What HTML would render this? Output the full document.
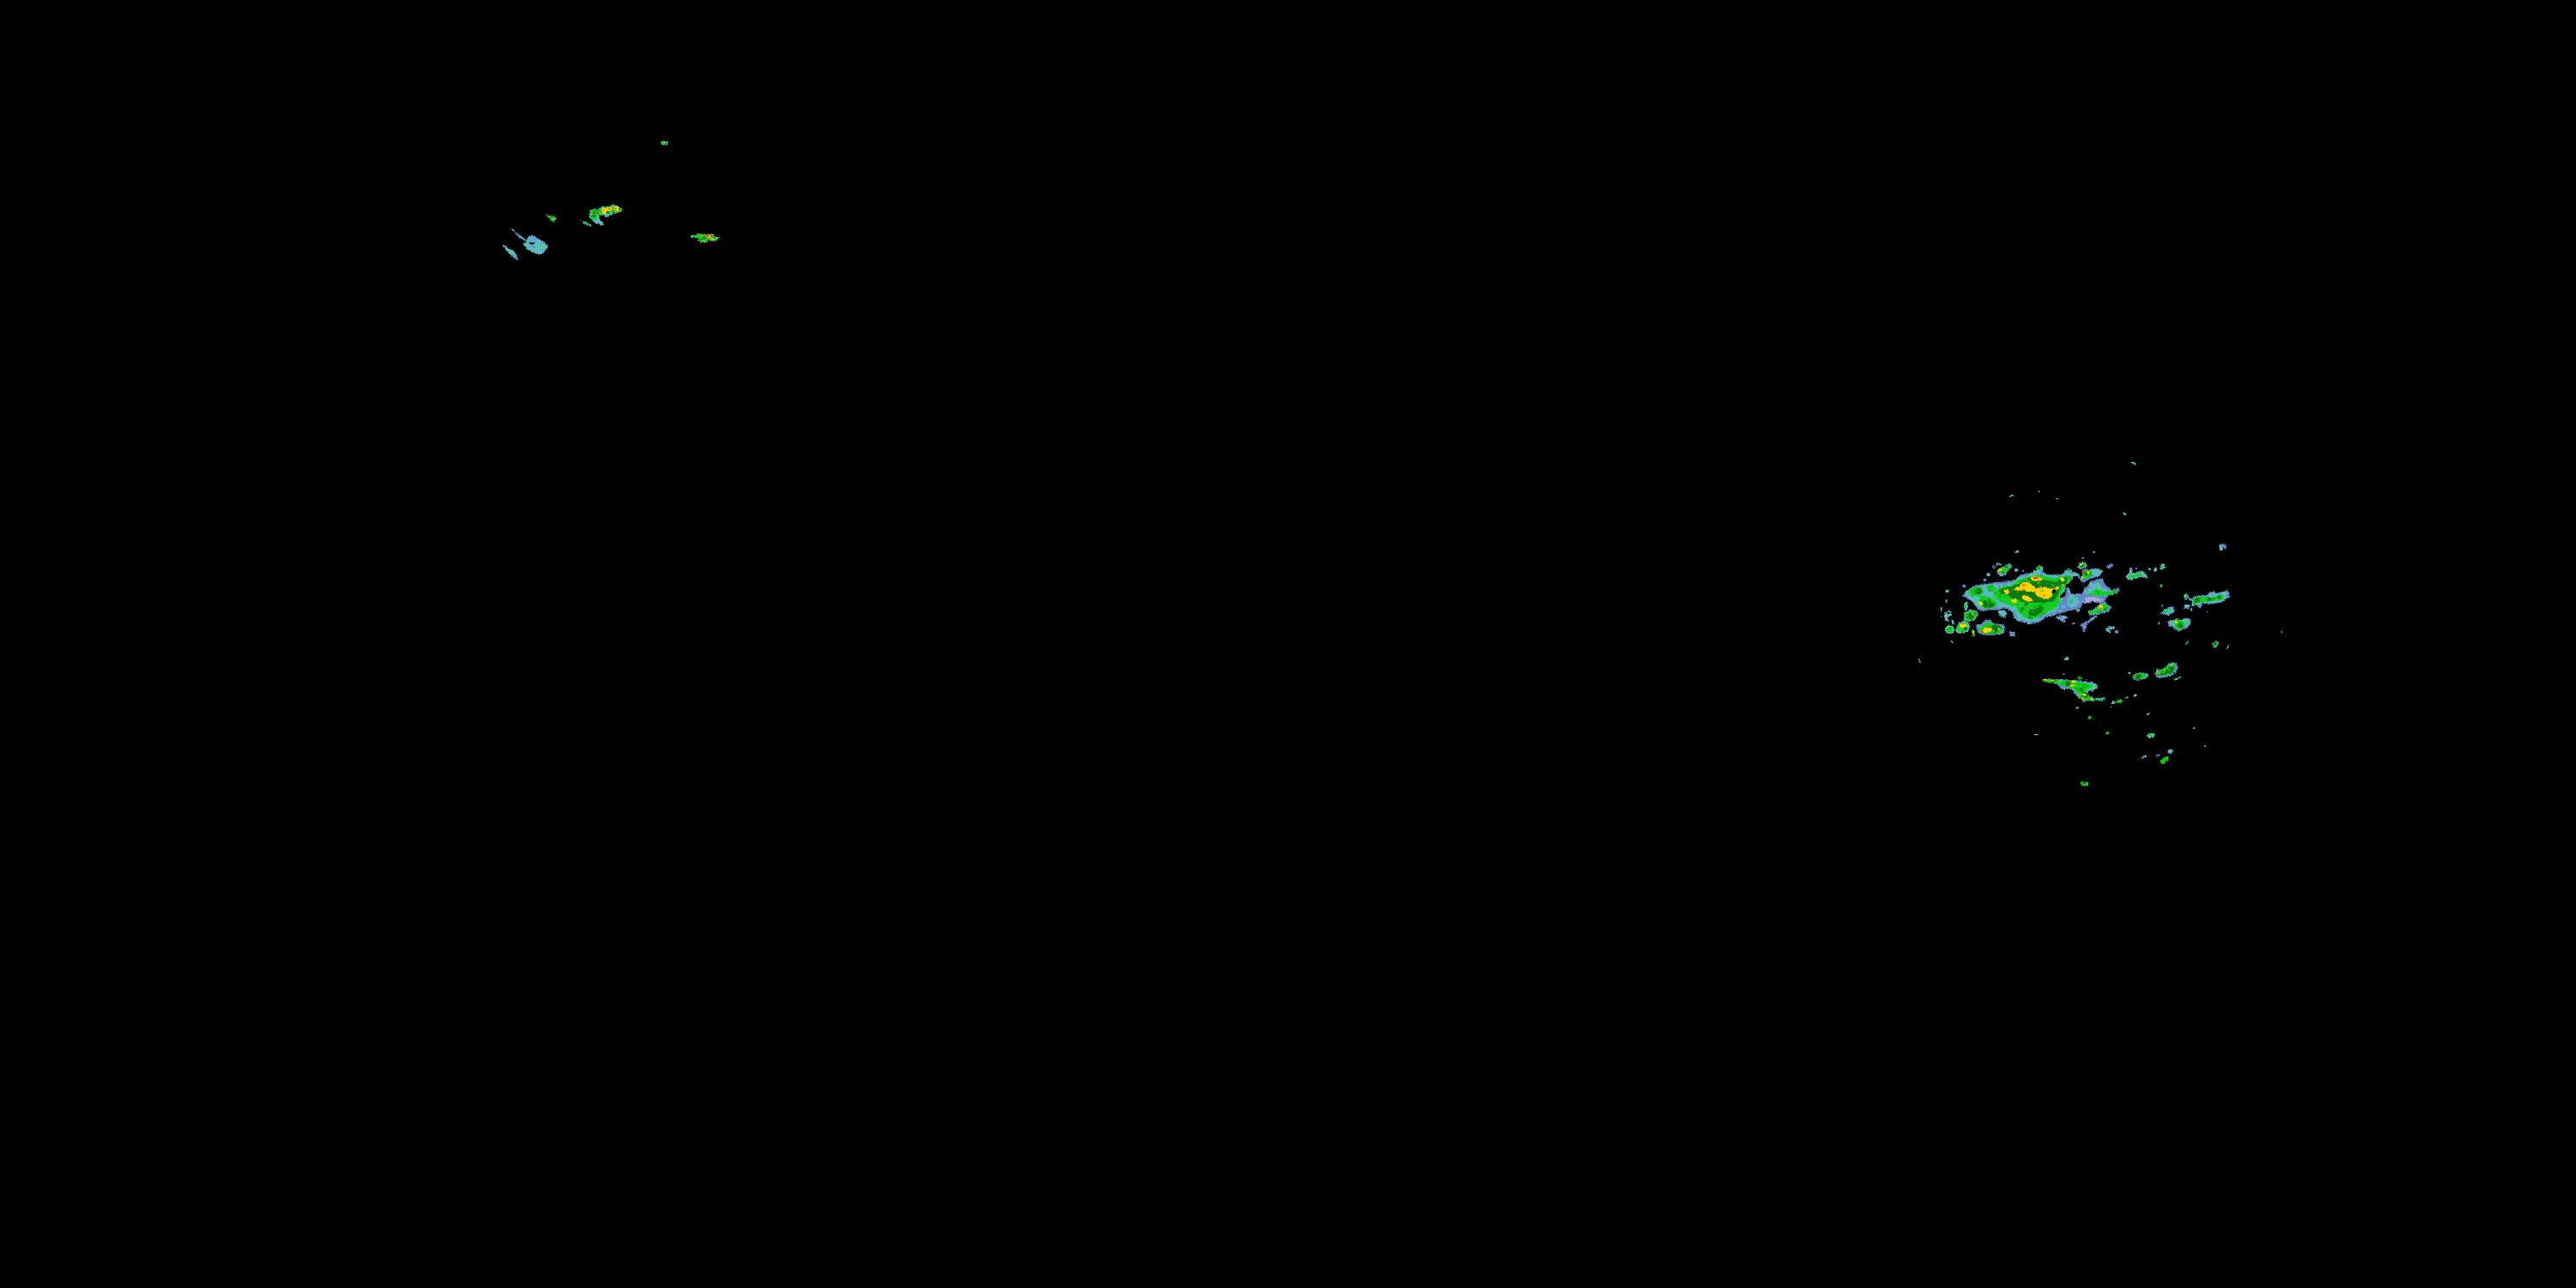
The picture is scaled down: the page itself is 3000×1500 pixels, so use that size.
<!DOCTYPE html>
<html><head><meta charset="utf-8"><style>
html,body{margin:0;padding:0;background:#000;width:3000px;height:1500px;overflow:hidden;}
svg{display:block;}
</style></head><body>
<svg width="3000" height="1500" viewBox="0 0 3000 1500">
<defs><pattern id="pB" patternUnits="userSpaceOnUse" width="48" height="48"><rect width="48" height="48" fill="#6384c8"/><rect x="4.6" y="38.8" width="3.7" height="3.7" fill="#62aad8"/><rect x="10.8" y="22.4" width="2.9" height="2.9" fill="#62aad8"/><rect x="30.3" y="36.9" width="1.9" height="1.9" fill="#62aad8"/><rect x="-0.0" y="38.7" width="2.8" height="2.8" fill="#62aad8"/><rect x="48.0" y="38.7" width="2.8" height="2.8" fill="#62aad8"/><rect x="35.2" y="-1.3" width="2.8" height="2.8" fill="#62aad8"/><rect x="35.2" y="46.7" width="2.8" height="2.8" fill="#62aad8"/><rect x="32.5" y="8.9" width="4.2" height="4.2" fill="#62aad8"/><rect x="42.4" y="0.6" width="1.7" height="1.7" fill="#62aad8"/><rect x="24.7" y="43.7" width="2.7" height="2.7" fill="#62aad8"/><rect x="9.6" y="19.4" width="1.7" height="1.7" fill="#62aad8"/><rect x="9.1" y="19.5" width="3.0" height="3.0" fill="#62aad8"/><rect x="10.1" y="10.0" width="2.2" height="2.2" fill="#62aad8"/><rect x="21.2" y="13.1" width="1.7" height="1.7" fill="#62aad8"/><rect x="38.5" y="25.0" width="3.4" height="3.4" fill="#62aad8"/><rect x="6.9" y="-2.4" width="4.0" height="4.0" fill="#62aad8"/><rect x="6.9" y="45.6" width="4.0" height="4.0" fill="#62aad8"/><rect x="4.0" y="14.2" width="3.6" height="3.6" fill="#62aad8"/><rect x="32.7" y="43.6" width="2.8" height="2.8" fill="#62aad8"/><rect x="38.6" y="30.9" width="2.4" height="2.4" fill="#62aad8"/><rect x="26.2" y="40.4" width="4.0" height="4.0" fill="#62aad8"/><rect x="23.4" y="27.4" width="1.7" height="1.7" fill="#62aad8"/><rect x="10.3" y="36.9" width="2.8" height="2.8" fill="#62aad8"/><rect x="6.5" y="24.6" width="3.6" height="3.6" fill="#62aad8"/><rect x="31.0" y="16.6" width="2.8" height="2.8" fill="#62aad8"/><rect x="22.9" y="35.8" width="3.1" height="3.1" fill="#62aad8"/><rect x="18.0" y="22.7" width="1.7" height="1.7" fill="#62aad8"/><rect x="-0.1" y="31.6" width="4.4" height="4.4" fill="#62aad8"/><rect x="47.9" y="31.6" width="4.4" height="4.4" fill="#62aad8"/><rect x="27.4" y="17.9" width="2.1" height="2.1" fill="#62aad8"/><rect x="22.2" y="-2.7" width="3.8" height="3.8" fill="#62aad8"/><rect x="22.2" y="45.3" width="3.8" height="3.8" fill="#62aad8"/><rect x="24.8" y="40.2" width="2.3" height="2.3" fill="#62aad8"/><rect x="23.1" y="44.1" width="3.2" height="3.2" fill="#62aad8"/><rect x="20.5" y="11.4" width="3.1" height="3.1" fill="#62aad8"/><rect x="44.0" y="-1.6" width="3.8" height="3.8" fill="#62aad8"/><rect x="44.0" y="46.4" width="3.8" height="3.8" fill="#62aad8"/><rect x="37.5" y="40.7" width="3.7" height="3.7" fill="#62aad8"/><rect x="37.3" y="23.3" width="3.2" height="3.2" fill="#62aad8"/><rect x="18.4" y="0.7" width="4.0" height="4.0" fill="#62aad8"/><rect x="25.9" y="8.1" width="3.0" height="3.0" fill="#62aad8"/><rect x="22.0" y="15.8" width="2.6" height="2.6" fill="#62aad8"/><rect x="24.2" y="28.3" width="3.3" height="3.3" fill="#62aad8"/><rect x="20.9" y="0.2" width="2.2" height="2.2" fill="#62aad8"/><rect x="6.5" y="26.0" width="4.0" height="4.0" fill="#62aad8"/><rect x="36.4" y="36.3" width="3.9" height="3.9" fill="#62aad8"/><rect x="10.5" y="38.7" width="3.5" height="3.5" fill="#62aad8"/><rect x="3.2" y="-0.0" width="1.6" height="1.6" fill="#62aad8"/><rect x="3.2" y="48.0" width="1.6" height="1.6" fill="#62aad8"/><rect x="35.3" y="11.0" width="1.9" height="1.9" fill="#62aad8"/><rect x="29.1" y="15.6" width="1.8" height="1.8" fill="#62aad8"/><rect x="6.6" y="24.3" width="2.1" height="2.1" fill="#62aad8"/><rect x="11.7" y="32.7" width="2.9" height="2.9" fill="#62aad8"/><rect x="14.6" y="21.9" width="1.7" height="1.7" fill="#62aad8"/><rect x="17.5" y="19.1" width="2.1" height="2.1" fill="#62aad8"/><rect x="3.7" y="41.7" width="3.0" height="3.0" fill="#62aad8"/><rect x="8.1" y="27.1" width="3.9" height="3.9" fill="#62aad8"/><rect x="0.2" y="0.1" width="1.6" height="1.6" fill="#58c4a8"/><rect x="33.1" y="6.2" width="2.9" height="2.9" fill="#58c4a8"/><rect x="31.7" y="25.3" width="1.7" height="1.7" fill="#58c4a8"/><rect x="-2.4" y="37.1" width="2.4" height="2.4" fill="#58c4a8"/><rect x="45.6" y="37.1" width="2.4" height="2.4" fill="#58c4a8"/><rect x="9.6" y="30.1" width="2.1" height="2.1" fill="#58c4a8"/><rect x="26.3" y="14.1" width="2.7" height="2.7" fill="#58c4a8"/><rect x="1.1" y="12.6" width="3.5" height="3.5" fill="#58c4a8"/><rect x="40.4" y="13.1" width="3.3" height="3.3" fill="#58c4a8"/><rect x="13.4" y="43.6" width="3.0" height="3.0" fill="#58c4a8"/><rect x="19.4" y="11.5" width="1.2" height="1.2" fill="#58c4a8"/><rect x="40.6" y="0.2" width="3.2" height="3.2" fill="#58c4a8"/><rect x="45.4" y="26.6" width="1.6" height="1.6" fill="#58c4a8"/><rect x="40.2" y="-2.7" width="2.9" height="2.9" fill="#58c4a8"/><rect x="40.2" y="45.3" width="2.9" height="2.9" fill="#58c4a8"/><rect x="23.4" y="17.1" width="2.0" height="2.0" fill="#58c4a8"/><rect x="8.8" y="31.2" width="2.2" height="2.2" fill="#58c4a8"/><rect x="7.9" y="3.6" width="2.8" height="2.8" fill="#58c4a8"/><rect x="13.2" y="23.0" width="2.0" height="2.0" fill="#58c4a8"/><rect x="41.2" y="42.6" width="1.2" height="1.2" fill="#58c4a8"/><rect x="7.9" y="13.9" width="3.6" height="3.6" fill="#58c4a8"/><rect x="36.7" y="15.4" width="1.7" height="1.7" fill="#58c4a8"/><rect x="30.7" y="38.5" width="3.4" height="3.4" fill="#58c4a8"/><rect x="15.1" y="40.9" width="2.8" height="2.8" fill="#58c4a8"/><rect x="22.4" y="-1.6" width="1.8" height="1.8" fill="#58c4a8"/><rect x="22.4" y="46.4" width="1.8" height="1.8" fill="#58c4a8"/><rect x="34.0" y="3.3" width="1.6" height="1.6" fill="#58c4a8"/><rect x="42.4" y="8.9" width="2.6" height="2.6" fill="#5070b8"/><rect x="27.9" y="39.4" width="1.9" height="1.9" fill="#5070b8"/><rect x="15.0" y="12.6" width="2.8" height="2.8" fill="#5070b8"/><rect x="27.6" y="44.4" width="2.8" height="2.8" fill="#5070b8"/><rect x="5.8" y="25.8" width="1.4" height="1.4" fill="#5070b8"/><rect x="0.5" y="2.1" width="2.8" height="2.8" fill="#5070b8"/><rect x="36.9" y="38.9" width="1.8" height="1.8" fill="#5070b8"/><rect x="28.6" y="36.6" width="1.9" height="1.9" fill="#5070b8"/><rect x="26.7" y="10.1" width="1.3" height="1.3" fill="#5070b8"/><rect x="11.7" y="41.6" width="2.2" height="2.2" fill="#5070b8"/><rect x="43.6" y="21.1" width="1.7" height="1.7" fill="#5070b8"/><rect x="37.2" y="39.1" width="1.2" height="1.2" fill="#5070b8"/><rect x="31.5" y="3.7" width="1.4" height="1.4" fill="#5070b8"/><rect x="41.7" y="1.1" width="1.6" height="1.6" fill="#5070b8"/><rect x="-1.3" y="19.5" width="1.4" height="1.4" fill="#5070b8"/><rect x="46.7" y="19.5" width="1.4" height="1.4" fill="#5070b8"/><rect x="6.8" y="10.3" width="2.5" height="2.5" fill="#5070b8"/></pattern><pattern id="pT" patternUnits="userSpaceOnUse" width="48" height="48"><rect width="48" height="48" fill="#5cb8c8"/><rect x="44.8" y="44.4" width="2.2" height="2.2" fill="#50c8a0"/><rect x="2.0" y="38.0" width="4.2" height="4.2" fill="#50c8a0"/><rect x="30.2" y="12.9" width="3.8" height="3.8" fill="#50c8a0"/><rect x="27.9" y="26.7" width="2.5" height="2.5" fill="#50c8a0"/><rect x="18.6" y="16.8" width="4.2" height="4.2" fill="#50c8a0"/><rect x="-2.1" y="43.8" width="3.6" height="3.6" fill="#50c8a0"/><rect x="45.9" y="43.8" width="3.6" height="3.6" fill="#50c8a0"/><rect x="20.3" y="11.8" width="2.1" height="2.1" fill="#50c8a0"/><rect x="-0.2" y="20.8" width="3.0" height="3.0" fill="#50c8a0"/><rect x="47.8" y="20.8" width="3.0" height="3.0" fill="#50c8a0"/><rect x="16.5" y="41.0" width="3.6" height="3.6" fill="#50c8a0"/><rect x="25.9" y="10.3" width="2.1" height="2.1" fill="#50c8a0"/><rect x="13.8" y="4.8" width="3.5" height="3.5" fill="#50c8a0"/><rect x="-1.3" y="31.1" width="2.5" height="2.5" fill="#50c8a0"/><rect x="46.7" y="31.1" width="2.5" height="2.5" fill="#50c8a0"/><rect x="40.8" y="36.1" width="4.2" height="4.2" fill="#50c8a0"/><rect x="41.3" y="34.4" width="4.4" height="4.4" fill="#50c8a0"/><rect x="14.5" y="-3.4" width="4.9" height="4.9" fill="#50c8a0"/><rect x="14.5" y="44.6" width="4.9" height="4.9" fill="#50c8a0"/><rect x="5.7" y="34.1" width="4.1" height="4.1" fill="#50c8a0"/><rect x="20.4" y="23.7" width="3.5" height="3.5" fill="#50c8a0"/><rect x="42.1" y="21.8" width="4.5" height="4.5" fill="#50c8a0"/><rect x="14.6" y="40.0" width="4.7" height="4.7" fill="#50c8a0"/><rect x="19.7" y="24.9" width="4.8" height="4.8" fill="#50c8a0"/><rect x="33.4" y="22.0" width="2.7" height="2.7" fill="#50c8a0"/><rect x="14.3" y="32.3" width="2.5" height="2.5" fill="#50c8a0"/><rect x="41.2" y="10.5" width="4.7" height="4.7" fill="#50c8a0"/><rect x="12.8" y="-4.1" width="4.1" height="4.1" fill="#50c8a0"/><rect x="12.8" y="43.9" width="4.1" height="4.1" fill="#50c8a0"/><rect x="22.2" y="22.9" width="4.0" height="4.0" fill="#50c8a0"/><rect x="26.9" y="13.7" width="2.6" height="2.6" fill="#50c8a0"/><rect x="22.6" y="42.9" width="3.9" height="3.9" fill="#50c8a0"/><rect x="1.5" y="37.3" width="4.2" height="4.2" fill="#50c8a0"/><rect x="41.5" y="7.1" width="4.2" height="4.2" fill="#50c8a0"/><rect x="1.4" y="29.9" width="2.8" height="2.8" fill="#50c8a0"/><rect x="9.7" y="40.9" width="2.3" height="2.3" fill="#50c8a0"/><rect x="23.7" y="39.6" width="2.7" height="2.7" fill="#50c8a0"/><rect x="8.5" y="40.6" width="3.3" height="3.3" fill="#50c8a0"/><rect x="32.9" y="-0.0" width="3.1" height="3.1" fill="#50c8a0"/><rect x="32.9" y="48.0" width="3.1" height="3.1" fill="#50c8a0"/><rect x="7.1" y="31.2" width="2.2" height="2.2" fill="#50c8a0"/><rect x="43.7" y="-0.9" width="4.2" height="4.2" fill="#50c8a0"/><rect x="43.7" y="47.1" width="4.2" height="4.2" fill="#50c8a0"/><rect x="-1.2" y="10.1" width="4.4" height="4.4" fill="#50c8a0"/><rect x="46.8" y="10.1" width="4.4" height="4.4" fill="#50c8a0"/><rect x="5.5" y="6.8" width="4.1" height="4.1" fill="#50c8a0"/><rect x="16.0" y="-0.4" width="5.0" height="5.0" fill="#50c8a0"/><rect x="16.0" y="47.6" width="5.0" height="5.0" fill="#50c8a0"/><rect x="5.8" y="0.2" width="3.0" height="3.0" fill="#50c8a0"/><rect x="28.4" y="34.5" width="2.3" height="2.3" fill="#50c8a0"/><rect x="14.5" y="-0.2" width="3.3" height="3.3" fill="#50c8a0"/><rect x="14.5" y="47.8" width="3.3" height="3.3" fill="#50c8a0"/><rect x="34.4" y="33.2" width="4.7" height="4.7" fill="#50c8a0"/><rect x="34.2" y="39.3" width="4.1" height="4.1" fill="#50c8a0"/><rect x="20.7" y="8.8" width="4.0" height="4.0" fill="#50c8a0"/><rect x="13.5" y="3.2" width="3.3" height="3.3" fill="#50c8a0"/><rect x="40.1" y="4.2" width="3.8" height="3.8" fill="#50c8a0"/><rect x="17.6" y="23.5" width="2.4" height="2.4" fill="#50c8a0"/><rect x="44.2" y="10.5" width="3.8" height="3.8" fill="#50c8a0"/><rect x="18.3" y="-1.0" width="3.7" height="3.7" fill="#50c8a0"/><rect x="18.3" y="47.0" width="3.7" height="3.7" fill="#50c8a0"/><rect x="5.9" y="1.9" width="1.7" height="1.7" fill="#6384c8"/><rect x="6.2" y="3.0" width="3.1" height="3.1" fill="#6384c8"/><rect x="22.5" y="-2.7" width="3.8" height="3.8" fill="#6384c8"/><rect x="22.5" y="45.3" width="3.8" height="3.8" fill="#6384c8"/><rect x="-1.6" y="9.8" width="2.7" height="2.7" fill="#6384c8"/><rect x="46.4" y="9.8" width="2.7" height="2.7" fill="#6384c8"/><rect x="10.5" y="26.8" width="3.1" height="3.1" fill="#6384c8"/><rect x="37.3" y="32.9" width="2.2" height="2.2" fill="#6384c8"/><rect x="19.5" y="24.5" width="1.6" height="1.6" fill="#6384c8"/><rect x="0.8" y="18.7" width="1.9" height="1.9" fill="#6384c8"/><rect x="33.8" y="10.6" width="1.8" height="1.8" fill="#6384c8"/><rect x="7.7" y="10.1" width="2.1" height="2.1" fill="#6384c8"/><rect x="23.8" y="21.1" width="2.3" height="2.3" fill="#6384c8"/><rect x="28.9" y="8.3" width="3.8" height="3.8" fill="#6384c8"/><rect x="44.9" y="33.7" width="2.6" height="2.6" fill="#6384c8"/><rect x="23.7" y="27.0" width="1.7" height="1.7" fill="#6384c8"/><rect x="19.0" y="24.2" width="2.0" height="2.0" fill="#6384c8"/><rect x="3.3" y="37.3" width="2.5" height="2.5" fill="#6384c8"/><rect x="23.4" y="42.7" width="3.1" height="3.1" fill="#6384c8"/><rect x="12.7" y="-2.0" width="2.5" height="2.5" fill="#6384c8"/><rect x="12.7" y="46.0" width="2.5" height="2.5" fill="#6384c8"/><rect x="-0.0" y="32.0" width="1.8" height="1.8" fill="#6384c8"/><rect x="48.0" y="32.0" width="1.8" height="1.8" fill="#6384c8"/><rect x="13.1" y="38.7" width="3.2" height="3.2" fill="#6384c8"/><rect x="-0.5" y="20.4" width="2.6" height="2.6" fill="#6384c8"/><rect x="47.5" y="20.4" width="2.6" height="2.6" fill="#6384c8"/><rect x="21.8" y="8.5" width="3.0" height="3.0" fill="#6384c8"/><rect x="2.2" y="12.3" width="2.6" height="2.6" fill="#30d060"/><rect x="43.0" y="1.8" width="3.7" height="3.7" fill="#30d060"/><rect x="7.9" y="26.1" width="2.7" height="2.7" fill="#30d060"/><rect x="20.9" y="34.8" width="2.7" height="2.7" fill="#30d060"/><rect x="4.9" y="4.9" width="1.8" height="1.8" fill="#30d060"/><rect x="38.7" y="28.6" width="4.3" height="4.3" fill="#30d060"/><rect x="31.5" y="-0.5" width="3.4" height="3.4" fill="#30d060"/><rect x="31.5" y="47.5" width="3.4" height="3.4" fill="#30d060"/><rect x="35.8" y="33.2" width="3.0" height="3.0" fill="#30d060"/><rect x="15.2" y="20.0" width="3.8" height="3.8" fill="#30d060"/><rect x="11.4" y="23.8" width="2.9" height="2.9" fill="#30d060"/><rect x="43.7" y="36.5" width="4.2" height="4.2" fill="#30d060"/><rect x="39.0" y="13.1" width="2.2" height="2.2" fill="#30d060"/><rect x="22.1" y="11.1" width="2.8" height="2.8" fill="#30d060"/><rect x="31.0" y="42.5" width="3.2" height="3.2" fill="#30d060"/><rect x="38.0" y="3.3" width="2.6" height="2.6" fill="#30d060"/><rect x="-1.5" y="5.6" width="2.8" height="2.8" fill="#30d060"/><rect x="46.5" y="5.6" width="2.8" height="2.8" fill="#30d060"/><rect x="1.2" y="2.1" width="4.1" height="4.1" fill="#30d060"/><rect x="-1.5" y="30.1" width="2.0" height="2.0" fill="#30d060"/><rect x="46.5" y="30.1" width="2.0" height="2.0" fill="#30d060"/><rect x="12.5" y="9.4" width="3.5" height="3.5" fill="#30d060"/><rect x="31.2" y="19.5" width="3.1" height="3.1" fill="#30d060"/><rect x="3.2" y="23.8" width="4.3" height="4.3" fill="#30d060"/><rect x="34.8" y="3.1" width="3.0" height="3.0" fill="#30d060"/></pattern><pattern id="pG" patternUnits="userSpaceOnUse" width="48" height="48"><rect width="48" height="48" fill="#14cc20"/><rect x="10.1" y="24.8" width="2.6" height="2.6" fill="#0a8a0a"/><rect x="28.1" y="29.1" width="1.8" height="1.8" fill="#0a8a0a"/><rect x="-0.5" y="39.0" width="2.3" height="2.3" fill="#0a8a0a"/><rect x="47.5" y="39.0" width="2.3" height="2.3" fill="#0a8a0a"/><rect x="9.8" y="-1.7" width="2.9" height="2.9" fill="#0a8a0a"/><rect x="9.8" y="46.3" width="2.9" height="2.9" fill="#0a8a0a"/><rect x="38.5" y="21.2" width="3.4" height="3.4" fill="#0a8a0a"/><rect x="5.2" y="28.5" width="4.0" height="4.0" fill="#0a8a0a"/><rect x="23.4" y="33.8" width="3.5" height="3.5" fill="#0a8a0a"/><rect x="1.4" y="34.8" width="3.3" height="3.3" fill="#0a8a0a"/><rect x="12.4" y="-0.5" width="4.0" height="4.0" fill="#0a8a0a"/><rect x="12.4" y="47.5" width="4.0" height="4.0" fill="#0a8a0a"/><rect x="20.7" y="32.5" width="4.1" height="4.1" fill="#0a8a0a"/><rect x="32.9" y="42.9" width="2.7" height="2.7" fill="#0a8a0a"/><rect x="36.3" y="19.2" width="4.2" height="4.2" fill="#0a8a0a"/><rect x="41.2" y="3.7" width="2.0" height="2.0" fill="#0a8a0a"/><rect x="9.0" y="44.9" width="2.8" height="2.8" fill="#0a8a0a"/><rect x="28.6" y="12.9" width="3.0" height="3.0" fill="#0a8a0a"/><rect x="16.9" y="15.2" width="3.2" height="3.2" fill="#0a8a0a"/><rect x="26.3" y="41.6" width="3.5" height="3.5" fill="#0a8a0a"/><rect x="42.4" y="38.9" width="4.4" height="4.4" fill="#0a8a0a"/><rect x="30.4" y="6.0" width="3.7" height="3.7" fill="#40d890"/><rect x="44.8" y="41.9" width="3.0" height="3.0" fill="#40d890"/><rect x="32.5" y="8.3" width="3.6" height="3.6" fill="#40d890"/><rect x="26.7" y="12.8" width="1.8" height="1.8" fill="#40d890"/><rect x="40.1" y="-1.4" width="1.8" height="1.8" fill="#40d890"/><rect x="40.1" y="46.6" width="1.8" height="1.8" fill="#40d890"/><rect x="37.4" y="18.7" width="2.0" height="2.0" fill="#40d890"/><rect x="12.3" y="35.1" width="3.7" height="3.7" fill="#40d890"/><rect x="1.3" y="28.6" width="1.7" height="1.7" fill="#40d890"/><rect x="32.6" y="14.0" width="3.7" height="3.7" fill="#40d890"/><rect x="-2.9" y="22.3" width="4.0" height="4.0" fill="#40d890"/><rect x="45.1" y="22.3" width="4.0" height="4.0" fill="#40d890"/><rect x="13.3" y="2.2" width="3.0" height="3.0" fill="#40d890"/><rect x="0.2" y="8.2" width="2.6" height="2.6" fill="#40d890"/><rect x="28.3" y="6.5" width="2.1" height="2.1" fill="#00c000"/><rect x="39.7" y="13.1" width="3.9" height="3.9" fill="#00c000"/><rect x="41.6" y="16.7" width="2.9" height="2.9" fill="#00c000"/><rect x="23.4" y="29.3" width="3.2" height="3.2" fill="#00c000"/><rect x="24.9" y="27.8" width="3.9" height="3.9" fill="#00c000"/><rect x="22.6" y="19.0" width="3.4" height="3.4" fill="#00c000"/><rect x="9.4" y="12.5" width="4.0" height="4.0" fill="#00c000"/><rect x="24.0" y="25.3" width="2.0" height="2.0" fill="#00c000"/><rect x="18.9" y="26.8" width="2.0" height="2.0" fill="#00c000"/><rect x="28.5" y="29.3" width="2.1" height="2.1" fill="#00c000"/><rect x="28.4" y="20.7" width="3.4" height="3.4" fill="#00c000"/><rect x="15.2" y="32.2" width="3.5" height="3.5" fill="#00c000"/><rect x="-0.6" y="1.2" width="3.4" height="3.4" fill="#00c000"/><rect x="47.4" y="1.2" width="3.4" height="3.4" fill="#00c000"/><rect x="44.8" y="10.6" width="2.9" height="2.9" fill="#00c000"/><rect x="27.1" y="14.0" width="2.7" height="2.7" fill="#00c000"/><rect x="13.4" y="16.1" width="3.2" height="3.2" fill="#00c000"/><rect x="12.6" y="16.3" width="3.5" height="3.5" fill="#00c000"/><rect x="-0.4" y="25.6" width="3.5" height="3.5" fill="#00c000"/><rect x="47.6" y="25.6" width="3.5" height="3.5" fill="#00c000"/><rect x="13.1" y="8.9" width="3.6" height="3.6" fill="#00c000"/><rect x="10.0" y="7.6" width="2.9" height="2.9" fill="#00c000"/></pattern><pattern id="pD" patternUnits="userSpaceOnUse" width="48" height="48"><rect width="48" height="48" fill="#0a7a0a"/><rect x="10.0" y="3.6" width="2.7" height="2.7" fill="#14c020"/><rect x="6.1" y="1.8" width="2.7" height="2.7" fill="#14c020"/><rect x="42.2" y="36.6" width="3.7" height="3.7" fill="#14c020"/><rect x="9.5" y="24.6" width="2.4" height="2.4" fill="#14c020"/><rect x="7.2" y="4.0" width="2.2" height="2.2" fill="#14c020"/><rect x="42.6" y="37.9" width="3.9" height="3.9" fill="#14c020"/><rect x="37.2" y="8.1" width="2.5" height="2.5" fill="#14c020"/><rect x="28.1" y="33.1" width="4.0" height="4.0" fill="#14c020"/><rect x="40.6" y="2.5" width="3.3" height="3.3" fill="#14c020"/><rect x="31.2" y="23.2" width="2.1" height="2.1" fill="#14c020"/><rect x="20.6" y="2.2" width="4.2" height="4.2" fill="#14c020"/><rect x="40.3" y="25.1" width="2.4" height="2.4" fill="#14c020"/><rect x="41.6" y="25.4" width="4.1" height="4.1" fill="#14c020"/><rect x="39.3" y="23.0" width="2.8" height="2.8" fill="#14c020"/><rect x="27.7" y="19.7" width="2.1" height="2.1" fill="#14c020"/><rect x="13.8" y="38.1" width="1.7" height="1.7" fill="#14c020"/><rect x="1.0" y="28.9" width="2.4" height="2.4" fill="#14c020"/><rect x="24.4" y="21.3" width="2.6" height="2.6" fill="#14c020"/><rect x="-1.5" y="8.0" width="2.8" height="2.8" fill="#14c020"/><rect x="46.5" y="8.0" width="2.8" height="2.8" fill="#14c020"/><rect x="8.5" y="29.2" width="2.4" height="2.4" fill="#14c020"/><rect x="15.8" y="34.6" width="2.5" height="2.5" fill="#14c020"/><rect x="25.9" y="42.5" width="1.9" height="1.9" fill="#14c020"/><rect x="1.1" y="9.1" width="3.7" height="3.7" fill="#14c020"/><rect x="28.3" y="10.1" width="2.5" height="2.5" fill="#14c020"/><rect x="7.7" y="21.2" width="1.7" height="1.7" fill="#14c020"/><rect x="31.3" y="40.9" width="4.3" height="4.3" fill="#14c020"/><rect x="34.4" y="45.2" width="1.7" height="1.7" fill="#14c020"/><rect x="12.0" y="-3.5" width="3.8" height="3.8" fill="#14c020"/><rect x="12.0" y="44.5" width="3.8" height="3.8" fill="#14c020"/><rect x="18.0" y="43.6" width="3.3" height="3.3" fill="#14c020"/><rect x="38.2" y="13.0" width="2.1" height="2.1" fill="#14c020"/><rect x="20.5" y="5.7" width="1.7" height="1.7" fill="#c8c000"/><rect x="45.6" y="15.3" width="1.2" height="1.2" fill="#c8c000"/><rect x="1.1" y="7.1" width="2.1" height="2.1" fill="#c8c000"/><rect x="16.8" y="13.3" width="1.3" height="1.3" fill="#c8c000"/><rect x="46.4" y="19.6" width="1.4" height="1.4" fill="#c8c000"/><rect x="2.1" y="2.0" width="1.4" height="1.4" fill="#c8c000"/><rect x="31.9" y="6.6" width="1.2" height="1.2" fill="#c8c000"/><rect x="22.4" y="10.8" width="2.4" height="2.4" fill="#c8c000"/><rect x="4.1" y="23.6" width="3.5" height="3.5" fill="#006800"/><rect x="18.2" y="-2.1" width="3.0" height="3.0" fill="#006800"/><rect x="18.2" y="45.9" width="3.0" height="3.0" fill="#006800"/><rect x="10.6" y="18.7" width="2.1" height="2.1" fill="#006800"/><rect x="18.3" y="10.0" width="3.8" height="3.8" fill="#006800"/><rect x="38.9" y="22.9" width="2.1" height="2.1" fill="#006800"/><rect x="11.0" y="10.4" width="2.4" height="2.4" fill="#006800"/><rect x="10.0" y="40.6" width="2.3" height="2.3" fill="#006800"/><rect x="0.9" y="43.0" width="3.1" height="3.1" fill="#006800"/><rect x="-2.4" y="17.4" width="3.8" height="3.8" fill="#006800"/><rect x="45.6" y="17.4" width="3.8" height="3.8" fill="#006800"/><rect x="29.6" y="36.2" width="3.5" height="3.5" fill="#006800"/><rect x="22.5" y="3.2" width="2.4" height="2.4" fill="#006800"/><rect x="40.0" y="41.3" width="3.8" height="3.8" fill="#006800"/><rect x="14.4" y="29.7" width="3.6" height="3.6" fill="#006800"/><rect x="29.3" y="37.6" width="3.1" height="3.1" fill="#006800"/><rect x="30.2" y="31.7" width="2.5" height="2.5" fill="#006800"/><rect x="43.2" y="44.8" width="2.1" height="2.1" fill="#006800"/><rect x="-3.1" y="44.5" width="3.3" height="3.3" fill="#006800"/><rect x="44.9" y="44.5" width="3.3" height="3.3" fill="#006800"/><rect x="1.0" y="42.0" width="2.3" height="2.3" fill="#006800"/><rect x="45.4" y="31.0" width="2.1" height="2.1" fill="#006800"/><rect x="6.5" y="28.9" width="3.1" height="3.1" fill="#006800"/></pattern><pattern id="pY" patternUnits="userSpaceOnUse" width="48" height="48"><rect width="48" height="48" fill="#ffd400"/><rect x="28.1" y="33.9" width="3.5" height="3.5" fill="#f0a000"/><rect x="43.3" y="33.6" width="3.8" height="3.8" fill="#f0a000"/><rect x="-0.5" y="20.4" width="3.9" height="3.9" fill="#f0a000"/><rect x="47.5" y="20.4" width="3.9" height="3.9" fill="#f0a000"/><rect x="30.2" y="42.3" width="1.9" height="1.9" fill="#f0a000"/><rect x="21.1" y="10.4" width="2.9" height="2.9" fill="#f0a000"/><rect x="26.5" y="-0.4" width="2.1" height="2.1" fill="#f0a000"/><rect x="26.5" y="47.6" width="2.1" height="2.1" fill="#f0a000"/><rect x="11.7" y="42.3" width="3.4" height="3.4" fill="#f0a000"/><rect x="6.7" y="37.3" width="1.9" height="1.9" fill="#f0a000"/><rect x="28.8" y="5.3" width="1.6" height="1.6" fill="#f0a000"/><rect x="40.8" y="9.0" width="2.1" height="2.1" fill="#f0a000"/><rect x="-2.0" y="40.7" width="2.3" height="2.3" fill="#f0a000"/><rect x="46.0" y="40.7" width="2.3" height="2.3" fill="#f0a000"/><rect x="44.5" y="24.3" width="3.2" height="3.2" fill="#f0a000"/><rect x="8.2" y="43.5" width="3.3" height="3.3" fill="#f0a000"/><rect x="45.2" y="41.7" width="2.3" height="2.3" fill="#f0a000"/><rect x="16.4" y="7.0" width="1.9" height="1.9" fill="#f0a000"/><rect x="1.6" y="12.9" width="3.0" height="3.0" fill="#f0a000"/><rect x="-0.8" y="31.6" width="1.9" height="1.9" fill="#0a8a0a"/><rect x="47.2" y="31.6" width="1.9" height="1.9" fill="#0a8a0a"/><rect x="13.8" y="38.2" width="2.2" height="2.2" fill="#0a8a0a"/><rect x="13.9" y="21.8" width="2.6" height="2.6" fill="#0a8a0a"/><rect x="2.1" y="46.2" width="1.2" height="1.2" fill="#0a8a0a"/><rect x="35.4" y="39.9" width="1.2" height="1.2" fill="#0a8a0a"/><rect x="36.6" y="16.4" width="2.4" height="2.4" fill="#0a8a0a"/><rect x="-0.3" y="1.5" width="1.6" height="1.6" fill="#0a8a0a"/><rect x="47.7" y="1.5" width="1.6" height="1.6" fill="#0a8a0a"/><rect x="44.5" y="8.1" width="2.7" height="2.7" fill="#0a8a0a"/><rect x="43.7" y="44.3" width="1.9" height="1.9" fill="#0a8a0a"/><rect x="15.7" y="23.8" width="2.8" height="2.8" fill="#0a8a0a"/><rect x="3.8" y="34.5" width="2.8" height="2.8" fill="#0a8a0a"/><rect x="39.7" y="0.2" width="3.1" height="3.1" fill="#0a8a0a"/><rect x="3.2" y="15.1" width="2.4" height="2.4" fill="#0a8a0a"/><rect x="42.5" y="14.8" width="3.0" height="3.0" fill="#0a8a0a"/><rect x="25.3" y="14.1" width="1.8" height="1.8" fill="#0a8a0a"/><rect x="7.8" y="3.0" width="1.5" height="1.5" fill="#0a8a0a"/><rect x="32.3" y="-0.9" width="1.5" height="1.5" fill="#0a8a0a"/><rect x="32.3" y="47.1" width="1.5" height="1.5" fill="#0a8a0a"/><rect x="1.2" y="-1.8" width="2.3" height="2.3" fill="#0a8a0a"/><rect x="1.2" y="46.2" width="2.3" height="2.3" fill="#0a8a0a"/><rect x="18.3" y="10.2" width="2.4" height="2.4" fill="#0a8a0a"/><rect x="38.6" y="20.9" width="2.0" height="2.0" fill="#0a8a0a"/><rect x="2.0" y="43.3" width="1.3" height="1.3" fill="#0a8a0a"/><rect x="23.0" y="39.5" width="1.5" height="1.5" fill="#0a8a0a"/><rect x="33.7" y="44.2" width="2.9" height="2.9" fill="#c8b800"/><rect x="36.6" y="3.9" width="2.5" height="2.5" fill="#c8b800"/><rect x="6.1" y="39.5" width="2.2" height="2.2" fill="#c8b800"/><rect x="20.1" y="-1.7" width="3.3" height="3.3" fill="#c8b800"/><rect x="20.1" y="46.3" width="3.3" height="3.3" fill="#c8b800"/><rect x="-2.4" y="20.5" width="2.6" height="2.6" fill="#c8b800"/><rect x="45.6" y="20.5" width="2.6" height="2.6" fill="#c8b800"/><rect x="33.9" y="21.9" width="2.2" height="2.2" fill="#c8b800"/><rect x="18.2" y="5.9" width="2.4" height="2.4" fill="#c8b800"/><rect x="-2.0" y="44.6" width="2.9" height="2.9" fill="#c8b800"/><rect x="46.0" y="44.6" width="2.9" height="2.9" fill="#c8b800"/><rect x="23.1" y="15.4" width="1.8" height="1.8" fill="#c8b800"/><rect x="11.4" y="35.9" width="3.3" height="3.3" fill="#c8b800"/><rect x="15.8" y="36.2" width="3.1" height="3.1" fill="#c8b800"/><rect x="31.8" y="30.3" width="3.1" height="3.1" fill="#c8b800"/><rect x="16.4" y="32.7" width="2.2" height="2.2" fill="#c8b800"/><rect x="21.8" y="35.5" width="3.0" height="3.0" fill="#c8b800"/><rect x="12.7" y="43.9" width="2.9" height="2.9" fill="#c8b800"/><rect x="26.5" y="-0.8" width="2.7" height="2.7" fill="#c8b800"/><rect x="26.5" y="47.2" width="2.7" height="2.7" fill="#c8b800"/></pattern><pattern id="pTG" patternUnits="userSpaceOnUse" width="48" height="48"><rect width="48" height="48" fill="#58c0b0"/><rect x="13.8" y="5.5" width="3.4" height="3.4" fill="#62a8d8"/><rect x="2.2" y="24.4" width="2.6" height="2.6" fill="#62a8d8"/><rect x="1.9" y="23.5" width="1.7" height="1.7" fill="#62a8d8"/><rect x="19.9" y="2.4" width="1.9" height="1.9" fill="#62a8d8"/><rect x="19.4" y="38.7" width="1.9" height="1.9" fill="#62a8d8"/><rect x="8.6" y="28.0" width="4.3" height="4.3" fill="#62a8d8"/><rect x="25.5" y="16.9" width="4.3" height="4.3" fill="#62a8d8"/><rect x="1.0" y="40.0" width="2.4" height="2.4" fill="#62a8d8"/><rect x="5.7" y="4.4" width="2.5" height="2.5" fill="#62a8d8"/><rect x="37.6" y="7.1" width="3.2" height="3.2" fill="#62a8d8"/><rect x="29.1" y="16.3" width="3.1" height="3.1" fill="#62a8d8"/><rect x="1.9" y="1.8" width="2.2" height="2.2" fill="#62a8d8"/><rect x="31.4" y="19.3" width="2.5" height="2.5" fill="#62a8d8"/><rect x="26.9" y="20.5" width="2.4" height="2.4" fill="#62a8d8"/><rect x="37.0" y="32.4" width="2.3" height="2.3" fill="#62a8d8"/><rect x="25.5" y="23.2" width="4.1" height="4.1" fill="#62a8d8"/><rect x="32.8" y="11.6" width="4.3" height="4.3" fill="#62a8d8"/><rect x="3.8" y="18.2" width="3.7" height="3.7" fill="#62a8d8"/><rect x="6.4" y="22.6" width="1.7" height="1.7" fill="#62a8d8"/><rect x="30.5" y="35.1" width="3.2" height="3.2" fill="#62a8d8"/><rect x="40.2" y="13.3" width="3.5" height="3.5" fill="#62a8d8"/><rect x="27.1" y="26.4" width="2.9" height="2.9" fill="#62a8d8"/><rect x="38.9" y="43.9" width="2.9" height="2.9" fill="#62a8d8"/><rect x="30.1" y="1.1" width="3.6" height="3.6" fill="#62a8d8"/><rect x="29.1" y="-2.3" width="3.9" height="3.9" fill="#62a8d8"/><rect x="29.1" y="45.7" width="3.9" height="3.9" fill="#62a8d8"/><rect x="11.9" y="16.8" width="3.5" height="3.5" fill="#62a8d8"/><rect x="0.0" y="21.1" width="2.1" height="2.1" fill="#62a8d8"/><rect x="3.7" y="1.0" width="3.8" height="3.8" fill="#62a8d8"/><rect x="4.9" y="10.5" width="2.7" height="2.7" fill="#62a8d8"/><rect x="40.4" y="2.4" width="2.9" height="2.9" fill="#62a8d8"/><rect x="24.6" y="40.6" width="3.6" height="3.6" fill="#50d098"/><rect x="40.2" y="12.1" width="2.6" height="2.6" fill="#50d098"/><rect x="15.3" y="40.5" width="3.9" height="3.9" fill="#50d098"/><rect x="6.2" y="7.4" width="2.2" height="2.2" fill="#50d098"/><rect x="9.7" y="21.8" width="3.0" height="3.0" fill="#50d098"/><rect x="11.3" y="-1.1" width="2.6" height="2.6" fill="#50d098"/><rect x="11.3" y="46.9" width="2.6" height="2.6" fill="#50d098"/><rect x="15.8" y="25.2" width="3.9" height="3.9" fill="#50d098"/><rect x="31.6" y="23.2" width="3.1" height="3.1" fill="#50d098"/><rect x="30.6" y="0.7" width="3.8" height="3.8" fill="#50d098"/><rect x="35.7" y="40.2" width="3.5" height="3.5" fill="#50d098"/><rect x="17.9" y="18.2" width="1.8" height="1.8" fill="#50d098"/><rect x="29.6" y="2.1" width="1.8" height="1.8" fill="#50d098"/><rect x="8.8" y="6.6" width="2.4" height="2.4" fill="#50d098"/><rect x="1.5" y="-1.0" width="2.0" height="2.0" fill="#50d098"/><rect x="1.5" y="47.0" width="2.0" height="2.0" fill="#50d098"/><rect x="4.0" y="16.6" width="1.7" height="1.7" fill="#50d098"/><rect x="41.0" y="28.5" width="2.0" height="2.0" fill="#50d098"/><rect x="10.9" y="15.4" width="2.5" height="2.5" fill="#50d098"/><rect x="3.9" y="38.8" width="4.0" height="4.0" fill="#50d098"/><rect x="21.5" y="22.3" width="1.8" height="1.8" fill="#50d098"/><rect x="3.8" y="15.3" width="2.2" height="2.2" fill="#50d098"/><rect x="39.2" y="7.1" width="1.2" height="1.2" fill="#5a90d0"/><rect x="44.9" y="24.6" width="1.5" height="1.5" fill="#5a90d0"/><rect x="25.0" y="0.2" width="2.2" height="2.2" fill="#5a90d0"/><rect x="-2.3" y="40.2" width="2.5" height="2.5" fill="#5a90d0"/><rect x="45.7" y="40.2" width="2.5" height="2.5" fill="#5a90d0"/><rect x="11.8" y="16.9" width="1.5" height="1.5" fill="#5a90d0"/><rect x="35.8" y="24.3" width="2.6" height="2.6" fill="#5a90d0"/><rect x="14.5" y="9.4" width="2.7" height="2.7" fill="#5a90d0"/><rect x="-2.0" y="39.6" width="2.7" height="2.7" fill="#5a90d0"/><rect x="46.0" y="39.6" width="2.7" height="2.7" fill="#5a90d0"/><rect x="38.5" y="34.7" width="1.6" height="1.6" fill="#5a90d0"/><rect x="24.2" y="16.4" width="1.3" height="1.3" fill="#5a90d0"/><rect x="0.5" y="12.6" width="1.7" height="1.7" fill="#5a90d0"/><rect x="32.2" y="44.9" width="2.0" height="2.0" fill="#5a90d0"/><rect x="43.5" y="-2.0" width="2.9" height="2.9" fill="#5a90d0"/><rect x="43.5" y="46.0" width="2.9" height="2.9" fill="#5a90d0"/><rect x="16.7" y="9.8" width="1.6" height="1.6" fill="#5a90d0"/></pattern><pattern id="pLB" patternUnits="userSpaceOnUse" width="48" height="48"><rect width="48" height="48" fill="#62a8d8"/><rect x="36.4" y="37.7" width="3.5" height="3.5" fill="#58c4b0"/><rect x="10.6" y="-2.0" width="4.0" height="4.0" fill="#58c4b0"/><rect x="10.6" y="46.0" width="4.0" height="4.0" fill="#58c4b0"/><rect x="21.0" y="34.9" width="3.1" height="3.1" fill="#58c4b0"/><rect x="34.8" y="10.9" width="4.4" height="4.4" fill="#58c4b0"/><rect x="33.2" y="18.1" width="3.6" height="3.6" fill="#58c4b0"/><rect x="30.9" y="7.4" width="3.7" height="3.7" fill="#58c4b0"/><rect x="36.4" y="10.5" width="4.4" height="4.4" fill="#58c4b0"/><rect x="31.4" y="39.0" width="3.0" height="3.0" fill="#58c4b0"/><rect x="2.3" y="36.2" width="4.4" height="4.4" fill="#58c4b0"/><rect x="20.1" y="3.2" width="2.6" height="2.6" fill="#58c4b0"/><rect x="28.0" y="11.5" width="4.9" height="4.9" fill="#58c4b0"/><rect x="26.3" y="7.7" width="4.0" height="4.0" fill="#58c4b0"/><rect x="14.9" y="42.4" width="4.7" height="4.7" fill="#58c4b0"/><rect x="22.7" y="28.9" width="4.1" height="4.1" fill="#58c4b0"/><rect x="37.6" y="45.8" width="2.1" height="2.1" fill="#58c4b0"/><rect x="15.9" y="27.4" width="2.9" height="2.9" fill="#58c4b0"/><rect x="26.0" y="2.0" width="4.6" height="4.6" fill="#58c4b0"/><rect x="23.2" y="3.6" width="4.0" height="4.0" fill="#58c4b0"/><rect x="13.3" y="7.7" width="3.5" height="3.5" fill="#58c4b0"/><rect x="4.3" y="7.8" width="4.6" height="4.6" fill="#58c4b0"/><rect x="31.3" y="-1.6" width="4.3" height="4.3" fill="#58c4b0"/><rect x="31.3" y="46.4" width="4.3" height="4.3" fill="#58c4b0"/><rect x="-1.5" y="13.6" width="4.7" height="4.7" fill="#58c4b0"/><rect x="46.5" y="13.6" width="4.7" height="4.7" fill="#58c4b0"/><rect x="28.2" y="13.1" width="3.1" height="3.1" fill="#58c4b0"/><rect x="16.2" y="3.6" width="5.0" height="5.0" fill="#58c4b0"/><rect x="0.5" y="18.2" width="4.2" height="4.2" fill="#58c4b0"/><rect x="17.7" y="-2.3" width="2.7" height="2.7" fill="#58c4b0"/><rect x="17.7" y="45.7" width="2.7" height="2.7" fill="#58c4b0"/><rect x="-3.0" y="40.8" width="4.0" height="4.0" fill="#58c4b0"/><rect x="45.0" y="40.8" width="4.0" height="4.0" fill="#58c4b0"/><rect x="40.4" y="19.2" width="4.5" height="4.5" fill="#58c4b0"/><rect x="36.5" y="23.1" width="3.4" height="3.4" fill="#58c4b0"/><rect x="32.7" y="18.5" width="2.3" height="2.3" fill="#58c4b0"/><rect x="34.1" y="11.0" width="3.5" height="3.5" fill="#58c4b0"/><rect x="36.6" y="7.2" width="2.1" height="2.1" fill="#58c4b0"/><rect x="4.4" y="26.8" width="3.1" height="3.1" fill="#58c4b0"/><rect x="9.9" y="19.3" width="4.8" height="4.8" fill="#58c4b0"/><rect x="9.9" y="17.4" width="4.6" height="4.6" fill="#58c4b0"/><rect x="27.7" y="11.1" width="3.4" height="3.4" fill="#58c4b0"/><rect x="21.4" y="5.3" width="3.1" height="3.1" fill="#58c4b0"/><rect x="13.2" y="37.1" width="3.0" height="3.0" fill="#58c4b0"/><rect x="29.3" y="-3.8" width="4.8" height="4.8" fill="#58c4b0"/><rect x="29.3" y="44.2" width="4.8" height="4.8" fill="#58c4b0"/><rect x="16.6" y="27.5" width="3.0" height="3.0" fill="#58c4b0"/><rect x="17.4" y="21.7" width="3.5" height="3.5" fill="#5a88d0"/><rect x="44.1" y="13.2" width="1.6" height="1.6" fill="#5a88d0"/><rect x="20.7" y="1.9" width="1.7" height="1.7" fill="#5a88d0"/><rect x="35.5" y="3.7" width="3.3" height="3.3" fill="#5a88d0"/><rect x="15.6" y="43.2" width="3.6" height="3.6" fill="#5a88d0"/><rect x="1.1" y="7.3" width="3.9" height="3.9" fill="#5a88d0"/><rect x="27.7" y="18.5" width="3.5" height="3.5" fill="#5a88d0"/><rect x="37.7" y="22.2" width="2.7" height="2.7" fill="#5a88d0"/><rect x="3.8" y="16.4" width="1.9" height="1.9" fill="#5a88d0"/><rect x="29.1" y="28.1" width="1.9" height="1.9" fill="#5a88d0"/><rect x="29.2" y="3.7" width="1.9" height="1.9" fill="#5a88d0"/><rect x="29.1" y="20.3" width="3.8" height="3.8" fill="#5a88d0"/><rect x="29.2" y="32.7" width="1.9" height="1.9" fill="#5a88d0"/><rect x="38.4" y="2.5" width="3.1" height="3.1" fill="#5a88d0"/><rect x="41.9" y="41.7" width="3.7" height="3.7" fill="#5a88d0"/><rect x="19.9" y="31.6" width="3.5" height="3.5" fill="#5a88d0"/><rect x="4.7" y="43.4" width="3.8" height="3.8" fill="#5a88d0"/><rect x="19.8" y="36.0" width="2.7" height="2.7" fill="#5a88d0"/><rect x="12.4" y="33.3" width="1.8" height="1.8" fill="#5a88d0"/><rect x="37.3" y="-2.2" width="2.3" height="2.3" fill="#5a88d0"/><rect x="37.3" y="45.8" width="2.3" height="2.3" fill="#5a88d0"/><rect x="43.3" y="2.2" width="3.7" height="3.7" fill="#5a88d0"/><rect x="12.1" y="45.1" width="2.6" height="2.6" fill="#5a88d0"/><rect x="43.4" y="0.6" width="1.8" height="1.8" fill="#5a88d0"/><rect x="37.7" y="29.2" width="2.9" height="2.9" fill="#5a88d0"/><rect x="0.3" y="7.1" width="2.5" height="2.5" fill="#5a88d0"/><rect x="0.8" y="-2.1" width="3.4" height="3.4" fill="#5a88d0"/><rect x="0.8" y="45.9" width="3.4" height="3.4" fill="#5a88d0"/><rect x="44.4" y="32.4" width="2.4" height="2.4" fill="#5a88d0"/><rect x="2.8" y="34.2" width="1.9" height="1.9" fill="#5a88d0"/><rect x="24.9" y="20.9" width="2.8" height="2.8" fill="#5a88d0"/><rect x="2.2" y="2.1" width="2.8" height="2.8" fill="#5a88d0"/><rect x="0.5" y="24.3" width="1.9" height="1.9" fill="#70b8e0"/><rect x="12.2" y="5.9" width="2.7" height="2.7" fill="#70b8e0"/><rect x="17.6" y="9.7" width="2.0" height="2.0" fill="#70b8e0"/><rect x="25.9" y="42.5" width="2.4" height="2.4" fill="#70b8e0"/><rect x="6.8" y="14.2" width="2.1" height="2.1" fill="#70b8e0"/><rect x="26.1" y="36.4" width="2.7" height="2.7" fill="#70b8e0"/><rect x="7.8" y="14.4" width="2.4" height="2.4" fill="#70b8e0"/><rect x="19.4" y="17.3" width="3.6" height="3.6" fill="#70b8e0"/><rect x="24.9" y="30.3" width="3.0" height="3.0" fill="#70b8e0"/><rect x="29.8" y="37.5" width="2.3" height="2.3" fill="#70b8e0"/><rect x="31.0" y="45.7" width="1.9" height="1.9" fill="#70b8e0"/><rect x="29.2" y="17.6" width="1.7" height="1.7" fill="#70b8e0"/><rect x="1.0" y="35.5" width="1.8" height="1.8" fill="#70b8e0"/><rect x="33.0" y="3.6" width="2.3" height="2.3" fill="#70b8e0"/><rect x="-0.0" y="24.5" width="3.2" height="3.2" fill="#70b8e0"/><rect x="48.0" y="24.5" width="3.2" height="3.2" fill="#70b8e0"/><rect x="9.1" y="25.4" width="3.4" height="3.4" fill="#70b8e0"/><rect x="12.6" y="21.1" width="3.0" height="3.0" fill="#70b8e0"/><rect x="40.0" y="6.6" width="2.9" height="2.9" fill="#70b8e0"/><rect x="4.0" y="3.6" width="3.6" height="3.6" fill="#70b8e0"/><rect x="0.9" y="42.6" width="3.1" height="3.1" fill="#70b8e0"/></pattern><filter id="rough" x="0" y="0" width="3000" height="1500" filterUnits="userSpaceOnUse">
<feTurbulence type="turbulence" baseFrequency="0.45" numOctaves="2" seed="3" result="n"/>
<feDisplacementMap in="SourceGraphic" in2="n" scale="2.5" xChannelSelector="R" yChannelSelector="G"/>
</filter></defs>
<rect width="3000" height="1500" fill="#000"/>
<g filter="url(#rough)">
<polygon fill="url(#pLB)" points="585.28,284.97 587.45,285.59 590.56,287.76 594.29,289.94 598.01,292.11 599.88,293.98 601.12,297.08 602.36,299.57 602.98,301.43 601.43,302.05 598.63,300.19 594.91,297.08 591.18,293.35 588.07,289.63 585.90,286.52"/>
<polygon fill="url(#pLB)" points="594.91,265.90 597.08,266.65 599.25,268.20 600.00,270.37 601.74,271.30 604.22,272.86 607.33,275.03 610.43,277.20 612.30,279.07 613.23,277.20 613.85,275.34 616.02,273.98 619.75,273.79 623.48,275.96 628.45,278.14 632.80,281.55 638.07,286.21 634.66,289.94 632.17,294.60 629.07,294.91 625.96,295.96 620.99,293.98 617.27,291.49 613.54,289.01 610.43,286.21 608.26,283.42 608.57,282.17 611.06,281.55 612.30,280.62 610.43,279.38 608.57,278.45 605.47,277.20 603.60,275.34 601.43,273.48 599.88,270.99 597.70,268.82 595.84,267.27"/>
<polygon fill="url(#pTG)" points="609.19,284.04 614.78,283.42 622.24,284.66 629.69,283.42 634.66,284.66 636.52,287.14 633.42,290.87 630.93,293.98 624.72,294.60 618.51,292.11 612.92,288.39"/>
<polygon fill="#000" points="614.78,281.55 619.75,281.55 622.24,282.80 620.99,284.04 617.27,283.42 614.78,282.80"/>
<polygon fill="url(#pD)" points="634.97,248.94 637.14,249.25 639.63,249.88 643.35,249.88 645.22,251.74 647.08,252.98 645.84,255.47 643.98,257.95 642.73,257.33 640.25,255.47 637.76,253.60 635.90,251.12"/>
<polygon fill="#30e060" points="642.11,252.98 644.60,251.74 647.08,252.98 645.84,255.47 643.98,257.95 642.73,257.33 641.49,255.47"/>
<polygon fill="url(#pT)" points="686.15,245.39 687.39,243.22 688.63,244.15 690.19,243.22 693.60,243.22 696.09,244.15 697.33,240.42 698.88,241.66 700.43,239.18 701.68,240.42 704.16,240.11 707.27,240.42 710.06,239.18 711.61,237.94 713.48,238.25 715.65,238.87 719.69,240.11 722.17,241.66 724.66,243.53 722.80,244.77 722.48,246.63 720.93,246.01 718.45,246.63 715.65,247.88 714.10,247.25 712.86,248.50 711.30,249.74 709.13,249.74 707.89,251.60 705.40,251.91 702.61,250.67 699.81,249.74 697.95,249.74 697.33,249.12 697.02,250.98 697.95,252.53 696.71,253.78 697.33,255.02 699.81,257.19 701.68,259.37 702.61,260.61 700.43,260.92 699.19,261.85 696.71,260.61 693.60,259.68 691.12,257.81 688.32,255.33 686.15,253.47 684.91,250.98 686.46,249.12 687.08,247.25"/>
<polygon fill="url(#pG)" points="688.32,244.77 690.19,243.53 693.60,243.84 696.40,244.15 698.57,242.60 700.43,240.73 704.16,240.42 707.89,241.04 710.37,242.60 712.24,239.80 714.10,238.87 718.14,239.80 720.93,240.42 722.80,242.91 721.55,245.39 717.83,246.01 714.72,245.39 712.86,246.63 710.99,247.57 709.13,249.43 706.65,250.05 703.54,249.43 699.81,248.50 697.33,247.88 696.71,249.74 694.84,250.36 694.22,252.84 692.98,255.33 689.88,254.71 687.39,252.22 686.77,250.36 688.63,248.19 688.32,246.63"/>
<ellipse fill="url(#pD)" cx="692.67" cy="246.63" rx="3.11" ry="1.86"/>
<ellipse fill="url(#pY)" cx="703.54" cy="244.77" rx="3.73" ry="3.42"/>
<ellipse fill="url(#pY)" cx="717.20" cy="242.29" rx="3.11" ry="3.11"/>
<polygon fill="url(#pT)" points="678.07,255.95 679.32,256.88 681.18,257.19 683.66,258.43 686.15,259.99 687.39,260.92 688.94,262.47 687.39,262.78 685.22,262.47 682.42,261.54 679.94,260.30 677.76,259.06 677.14,258.43 678.39,257.50"/>
<polygon fill="url(#pG)" points="679.63,258.12 681.80,258.12 683.98,259.06 686.15,260.30 686.77,261.23 684.91,261.54 682.42,260.92 679.94,259.68"/>
<polygon fill="url(#pG)" points="804.86,274.11 808.09,273.30 808.90,272.90 810.92,273.30 812.13,271.89 829.89,271.89 830.10,272.90 831.91,273.10 832.11,273.91 830.30,274.11 830.30,274.92 833.93,274.92 834.13,276.13 835.95,276.13 835.95,277.95 833.93,278.15 834.13,279.97 827.27,279.76 822.83,279.97 822.83,281.98 814.15,281.98 813.95,280.98 812.13,280.98 812.13,278.15 813.75,277.75 813.75,276.94 810.11,276.94 810.11,276.13 806.88,275.93 804.86,275.93"/>
<rect fill="url(#pG)" x="769.92" y="163.83" width="7.13" height="4.33"/>
<polygon fill="url(#pB)" points="2284.47,693.60 2289.13,687.08 2294.72,684.29 2300.31,680.56 2305.90,679.63 2315.22,678.70 2320.81,677.76 2330.12,676.83 2339.44,675.90 2346.89,674.04 2352.48,668.45 2358.07,667.52 2364.60,666.58 2369.25,663.79 2372.05,662.39 2374.84,663.79 2378.57,665.65 2384.16,668.45 2394.41,668.45 2400.93,667.52 2406.52,662.86 2410.25,661.93 2413.98,666.58 2420.50,668.45 2425.16,675.90 2427.02,685.22 2432.61,677.76 2441.93,674.04 2447.52,673.11 2451.24,680.56 2458.70,687.08 2466.15,683.35 2468.01,687.08 2464.29,690.81 2454.97,693.60 2450.31,700.12 2445.65,701.99 2436.34,700.12 2430.75,701.99 2425.16,701.99 2423.29,707.58 2413.98,709.44 2406.52,711.30 2400.93,713.17 2391.61,715.96 2380.43,718.76 2376.71,722.48 2369.25,725.28 2361.80,726.21 2356.21,724.35 2348.76,722.48 2345.03,718.76 2343.17,712.24 2333.85,707.58 2326.40,709.44 2315.22,709.44 2307.76,711.30 2302.17,708.51 2296.58,700.12 2292.86,698.26 2290.06,695.47"/>
<polygon fill="url(#pT)" points="2287.27,692.67 2291.93,687.08 2298.45,683.35 2307.76,681.49 2320.81,679.63 2333.85,678.70 2343.17,677.76 2348.76,672.17 2361.80,669.38 2371.12,662.86 2380.43,668.45 2399.07,670.31 2408.39,665.65 2415.84,670.31 2410.25,679.63 2404.66,687.08 2402.80,694.53 2399.07,701.99 2395.34,709.44 2385.09,714.10 2375.78,719.69 2366.46,723.42 2357.14,722.48 2348.76,718.76 2346.89,712.24 2339.44,706.65 2330.12,706.65 2317.08,706.65 2305.90,708.51 2300.31,703.85 2294.72,697.33"/>
<polygon fill="url(#pT)" points="2430.75,685.22 2436.34,679.63 2443.79,676.83 2446.58,681.49 2450.31,687.08 2458.70,688.94 2464.29,687.08 2463.35,689.88 2454.97,692.20 2447.52,694.53 2436.34,693.60 2430.75,690.81"/>
<polygon fill="url(#pT)" points="2410.25,690.81 2417.70,694.53 2421.43,700.12 2417.70,705.71 2410.25,706.65 2406.52,701.99"/>
<polygon fill="url(#pG)" points="2290.99,688.94 2296.58,684.29 2302.17,682.42 2307.76,683.35 2309.63,688.01 2305.90,692.67 2300.31,693.60 2293.79,693.60"/>
<polygon fill="url(#pG)" points="2302.17,694.53 2307.76,692.67 2315.22,694.53 2322.67,698.26 2326.40,703.85 2320.81,707.58 2311.49,708.51 2304.97,704.78"/>
<polygon fill="url(#pG)" points="2313.35,681.49 2320.81,680.56 2324.53,685.22 2320.81,688.94 2315.22,688.01"/>
<polygon fill="url(#pG)" points="2320.81,690.81 2326.40,685.22 2333.85,681.49 2343.17,680.56 2350.62,674.97 2361.80,670.78 2372.98,668.91 2382.30,670.78 2389.75,672.64 2399.07,670.78 2408.39,668.91 2412.11,672.64 2408.39,679.63 2402.80,684.29 2399.07,690.81 2399.07,700.12 2395.34,705.71 2387.89,709.44 2382.30,713.17 2372.98,718.76 2363.66,720.62 2354.35,716.89 2350.62,711.30 2346.89,705.71 2339.44,703.85 2331.99,701.06 2326.40,698.26"/>
<polygon fill="url(#pG)" points="2432.61,688.01 2441.93,686.61 2451.24,688.48 2460.56,687.55 2466.15,685.68 2464.29,689.88 2454.97,692.67 2445.65,693.60 2436.34,692.67 2432.61,691.74"/>
<polygon fill="url(#pD)" points="2300.31,685.22 2305.90,684.29 2307.76,688.01 2304.97,691.27 2300.31,690.81"/>
<polygon fill="url(#pD)" points="2326.40,687.08 2333.85,683.35 2343.17,681.49 2350.62,678.70 2361.80,673.11 2372.98,673.11 2382.30,674.97 2391.61,676.83 2399.07,673.11 2406.52,671.24 2407.45,675.90 2402.80,680.56 2397.20,686.15 2395.34,693.60 2392.55,699.19 2386.02,700.12 2378.57,701.06 2371.12,701.06 2361.80,701.06 2352.48,699.19 2345.03,696.40 2339.44,693.60 2333.85,691.74 2329.19,689.88"/>
<polygon fill="url(#pD)" points="2305.90,699.19 2311.49,698.26 2318.94,701.06 2322.67,704.78 2317.08,707.11 2309.63,706.18"/>
<polygon fill="url(#pD)" points="2363.66,708.51 2371.12,706.65 2378.57,708.51 2376.71,713.17 2370.19,717.36 2364.60,716.89 2361.80,713.17"/>
<polygon fill="url(#pY)" points="2345.03,685.22 2350.62,680.56 2356.21,676.83 2361.80,677.76 2367.39,681.49 2371.12,685.22 2367.39,688.94 2359.94,688.01 2354.35,687.08 2348.76,687.08"/>
<polygon fill="url(#pY)" points="2369.25,685.22 2376.71,683.35 2384.16,684.29 2391.61,685.22 2396.27,681.49 2397.20,684.29 2391.61,688.94 2387.89,694.53 2384.16,697.33 2378.57,696.40 2371.12,692.67 2369.25,688.94"/>
<polygon fill="url(#pY)" points="2352.48,693.60 2358.07,692.67 2363.66,695.47 2367.39,699.19 2361.80,700.12 2356.21,698.26"/>
<polygon fill="url(#pY)" points="2363.66,672.17 2369.25,670.31 2376.71,672.17 2377.64,674.97 2371.12,675.90 2365.53,674.97"/>
<polygon fill="url(#pY)" points="2332.92,687.08 2337.58,685.22 2339.44,688.94 2335.71,691.74"/>
<polygon fill="url(#pY)" points="2341.30,698.26 2346.89,697.33 2348.76,700.12 2343.17,701.99"/>
<polygon fill="#a8a8d8" points="2427.02,696.40 2431.68,694.53 2440.99,695.47 2449.38,697.33 2445.65,700.12 2436.34,700.12 2428.88,701.06"/>
<polygon fill="#000" points="2417.70,670.31 2414.16,670.31 2412.58,673.94 2407.92,678.60 2404.84,681.77 2404.19,687.92 2399.07,692.58 2397.67,695.93 2402.80,695.00 2405.40,691.74 2405.40,683.35 2408.39,682.98 2410.99,691.09 2423.48,691.09 2426.55,684.84 2424.97,678.60 2420.40,672.45"/>
<ellipse fill="url(#pT)" cx="2374.84" cy="661.46" rx="3.54" ry="3.26"/>
<polygon fill="url(#pT)" points="2418.63,659.13 2421.43,655.40 2425.16,653.54 2430.75,657.27 2427.02,660.99 2421.43,661.93"/>
<polygon fill="url(#pG)" points="2420.50,659.13 2423.29,656.34 2427.02,655.40 2428.88,657.73 2425.16,660.06 2421.43,660.99"/>
<polygon fill="url(#pB)" points="2423.29,663.79 2427.02,661.93 2432.61,662.86 2441.93,660.99 2448.45,663.79 2445.65,669.38 2440.06,672.17 2432.61,674.04 2427.02,677.76 2421.43,675.90 2422.36,672.17 2425.16,668.45"/>
<polygon fill="url(#pT)" points="2435.40,663.79 2441.93,661.93 2447.52,664.25 2444.72,668.45 2439.13,670.31 2435.40,668.45"/>
<polygon fill="url(#pG)" points="2423.76,664.72 2431.68,663.32 2436.34,665.65 2434.47,670.78 2428.88,673.11 2425.16,674.04 2423.29,670.31 2425.16,667.52"/>
<polygon fill="url(#pT)" points="2412.11,666.58 2416.77,665.65 2420.50,667.52 2418.63,669.84 2413.98,669.38"/>
<polygon fill="url(#pB)" points="2452.17,659.13 2456.83,656.34 2460.56,656.80 2457.76,660.99 2454.04,660.99"/>
<polygon fill="url(#pT)" points="2475.47,670.31 2479.19,666.58 2480.12,661.46 2482.92,661.93 2481.99,666.58 2486.65,666.58 2490.00,665.65 2490.00,672.17 2482.92,672.17 2479.19,674.97 2475.47,673.11"/>
<polygon fill="url(#pG)" points="2477.33,670.78 2480.12,668.45 2481.99,670.31 2485.71,668.45 2490.00,667.52 2490.00,670.31 2482.92,671.24 2479.19,673.11"/>
<polygon fill="url(#pT)" points="2286.34,713.17 2293.79,708.98 2300.78,710.84 2303.11,715.03 2299.38,721.09 2292.86,723.42 2286.80,721.55"/>
<polygon fill="url(#pG)" points="2287.73,713.63 2293.79,710.37 2299.84,711.77 2301.71,715.50 2297.98,720.16 2292.86,722.02 2288.20,720.16"/>
<ellipse fill="url(#pD)" cx="2293.79" cy="716.89" rx="4.19" ry="3.73"/>
<polygon fill="url(#pT)" points="2277.48,729.94 2281.21,723.88 2287.27,722.02 2292.39,724.81 2294.25,729.94 2289.60,735.99 2281.68,736.93 2277.02,735.06"/>
<polygon fill="url(#pG)" points="2278.88,729.94 2282.14,725.28 2287.27,723.88 2291.46,726.21 2292.86,729.94 2288.66,734.60 2282.14,735.53 2278.42,733.66"/>
<ellipse fill="url(#pY)" cx="2285.40" cy="728.54" rx="4.19" ry="2.80"/>
<polygon fill="url(#pB)" points="2300.31,727.14 2305.90,726.21 2311.49,721.55 2317.08,720.62 2320.81,725.28 2331.99,726.21 2334.78,731.80 2331.99,737.39 2320.81,738.79 2309.63,738.79 2304.04,736.93 2301.24,731.80"/>
<polygon fill="url(#pG)" points="2304.04,729.01 2309.63,727.14 2313.35,723.42 2318.01,723.42 2320.81,727.14 2330.12,728.07 2331.99,732.73 2329.19,736.46 2320.81,737.39 2309.63,737.39 2304.97,735.53"/>
<ellipse fill="url(#pD)" cx="2323.60" cy="730.87" rx="6.52" ry="4.19"/>
<polygon fill="url(#pY)" points="2306.83,733.66 2311.49,730.87 2317.08,729.94 2320.81,732.73 2317.08,735.06 2310.56,736.46"/>
<polygon fill="url(#pT)" points="2264.91,730.87 2268.63,727.14 2273.29,728.07 2276.09,731.80 2275.16,736.46 2268.63,736.93 2264.91,734.60"/>
<ellipse fill="url(#pG)" cx="2270.03" cy="732.27" rx="3.73" ry="3.26"/>
<polygon fill="url(#pT)" points="2264.44,713.17 2268.63,709.91 2272.36,711.77 2271.89,715.96 2268.17,716.89 2267.24,720.16 2269.57,722.48 2264.91,722.95 2263.98,717.83"/>
<polygon fill="url(#pT)" points="2286.34,703.85 2289.13,699.19 2291.46,701.06 2290.99,706.65 2289.13,710.37 2286.80,709.44"/>
<polygon fill="url(#pG)" points="2296.12,731.80 2298.45,732.27 2299.38,740.00 2296.58,740.00"/>
<polygon fill="url(#pB)" points="2339.44,735.06 2345.96,735.53 2345.96,740.00 2339.44,740.00"/>
<polygon fill="url(#pB)" points="2325.00,664.72 2330.12,660.53 2335.71,656.80 2339.44,655.59 2342.98,657.73 2339.91,662.39 2336.18,666.12 2334.32,669.84 2329.19,670.78 2326.86,667.98"/>
<polygon fill="url(#pG)" points="2325.93,664.72 2330.59,661.46 2336.18,657.73 2339.44,656.80 2341.77,658.20 2338.98,661.93 2335.25,665.65 2331.99,667.52 2327.33,666.58"/>
<polygon fill="url(#pT)" points="2323.94,656.55 2325.34,655.16 2326.74,654.92 2327.67,656.09 2330.93,655.39 2330.47,656.79 2327.67,657.48 2325.81,657.95 2324.41,657.48"/>
<polygon fill="url(#pB)" points="2430.75,712.24 2436.34,708.98 2443.79,703.85 2447.52,700.59 2451.24,699.66 2454.50,703.39 2458.23,706.65 2454.97,711.77 2447.52,713.63 2440.06,715.50 2432.61,716.43"/>
<polygon fill="url(#pG)" points="2432.61,712.24 2437.27,709.91 2444.25,705.25 2448.45,701.99 2451.24,701.52 2453.57,704.32 2454.97,707.58 2452.17,710.37 2445.65,712.24 2438.20,714.10 2433.54,714.57"/>
<polygon fill="url(#pB)" points="2393.48,718.29 2399.07,715.96 2404.66,716.89 2408.39,718.29 2403.73,721.09 2404.66,724.35 2400.93,723.42 2397.20,720.62"/>
<polygon fill="url(#pB)" points="2421.43,728.07 2427.02,724.35 2432.61,720.62 2440.06,715.96 2442.39,716.89 2435.40,722.48 2429.81,726.21 2427.02,735.53 2424.22,734.60 2425.16,729.01"/>
<polygon fill="url(#pT)" points="2451.24,731.80 2456.83,728.54 2463.35,729.01 2461.49,731.80 2455.90,732.73 2457.76,736.46 2453.11,735.53"/>
<polygon fill="url(#pT)" points="2326.40,711.30 2331.99,709.44 2336.65,712.24 2334.78,718.76 2330.12,717.83 2327.33,715.03"/>
<polygon fill="url(#pB)" points="2583.73,634.29 2586.83,633.04 2593.04,634.29 2591.80,638.63 2588.07,637.39 2587.45,639.88 2584.04,639.88"/>
<polygon fill="url(#pT)" points="2480.00,669.69 2483.73,667.20 2487.45,665.96 2494.29,664.10 2498.63,668.45 2501.12,671.55 2498.01,672.80 2492.42,670.93 2487.45,672.80 2482.48,674.66 2480.00,674.66"/>
<polygon fill="url(#pG)" points="2481.24,670.31 2484.97,667.83 2489.32,667.20 2493.66,667.20 2495.53,669.69 2491.18,670.31 2486.21,671.55 2481.86,672.17"/>
<polygon fill="url(#pT)" points="2515.40,660.37 2516.02,656.34 2519.75,656.02 2520.99,660.37 2518.51,662.86 2516.02,662.86"/>
<polygon fill="url(#pB)" points="2549.07,697.39 2553.42,694.91 2559.63,693.04 2568.32,692.42 2572.05,689.32 2577.64,688.07 2581.37,689.94 2590.06,687.45 2593.17,685.90 2595.65,690.56 2595.96,694.91 2591.93,696.77 2588.82,699.88 2580.75,701.74 2572.67,702.98 2564.60,701.74 2562.11,707.33 2559.63,707.33 2557.14,703.60 2552.17,705.47 2552.17,699.88 2549.07,698.63"/>
<polygon fill="url(#pT)" points="2552.80,696.15 2559.63,693.98 2568.32,693.35 2574.53,691.18 2581.99,690.56 2590.68,688.07 2594.41,691.18 2593.17,695.53 2588.20,698.63 2579.50,700.50 2570.81,701.74 2564.60,701.12 2559.63,704.84 2554.66,704.22 2552.80,700.50"/>
<polygon fill="url(#pG)" points="2553.42,696.15 2559.63,694.29 2567.08,694.29 2572.05,695.53 2580.75,694.29 2585.09,691.18 2589.44,693.04 2590.68,696.15 2585.71,698.01 2579.50,698.63 2570.81,699.88 2564.60,700.50 2559.63,701.74 2554.66,703.60 2553.42,699.88"/>
<polygon fill="url(#pD)" points="2554.66,696.77 2559.63,695.22 2562.11,696.15 2561.49,699.88 2557.76,701.12 2554.66,701.74"/>
<polygon fill="url(#pD)" points="2569.57,695.53 2578.26,695.53 2580.12,697.39 2574.53,698.63 2570.19,698.63"/>
<polygon fill="url(#pB)" points="2542.86,693.66 2545.34,690.25 2547.83,692.11 2547.83,696.15 2545.96,698.01 2544.10,697.39"/>
<polygon fill="url(#pB)" points="2516.02,713.54 2518.63,709.81 2523.60,707.33 2529.19,705.16 2531.99,708.57 2530.75,712.92 2526.09,714.78 2524.84,716.65 2522.36,714.78 2516.77,715.09"/>
<polygon fill="url(#pT)" points="2518.63,711.06 2523.60,708.57 2528.57,706.71 2530.43,709.81 2529.19,712.30 2525.47,713.54 2520.50,713.54"/>
<polygon fill="url(#pG)" points="2517.08,712.61 2520.50,709.81 2524.84,709.19 2523.60,711.68 2520.50,713.23"/>
<polygon fill="url(#pB)" points="2542.24,707.64 2543.48,704.22 2547.20,702.98 2549.69,703.60 2549.07,706.71 2547.20,708.88 2545.96,707.33 2542.86,707.95"/>
<polygon fill="url(#pB)" points="2524.22,722.24 2531.06,720.99 2534.78,720.37 2540.37,720.99 2543.48,719.13 2549.69,719.75 2550.93,723.48 2549.07,728.45 2544.72,731.55 2540.37,733.42 2536.65,734.66 2531.06,730.93 2529.81,728.45 2526.09,729.07 2524.22,727.20"/>
<polygon fill="url(#pT)" points="2524.84,722.86 2530.43,721.61 2533.54,721.61 2532.30,725.34 2529.19,727.20 2526.09,727.83"/>
<polygon fill="url(#pT)" points="2542.24,720.37 2549.07,720.37 2550.00,724.72 2547.20,728.45 2543.48,729.69 2542.86,724.72"/>
<polygon fill="url(#pG)" points="2531.68,723.48 2534.78,721.61 2539.75,722.24 2543.48,723.48 2544.10,728.45 2540.37,731.55 2536.02,732.80 2532.30,729.69"/>
<ellipse fill="url(#pD)" cx="2538.51" cy="728.45" rx="3.42" ry="2.48"/>
<polygon fill="url(#pB)" points="2576.09,749.57 2578.26,746.46 2580.75,745.53 2583.23,747.70 2582.61,752.05 2580.12,753.91 2577.02,753.91"/>
<ellipse fill="url(#pG)" cx="2579.50" cy="749.88" rx="2.80" ry="3.42"/>
<polygon fill="url(#pB)" points="2377.86,791.06 2380.19,789.89 2391.06,790.28 2400.37,791.06 2406.58,790.28 2414.35,791.83 2419.01,793.39 2425.99,795.71 2433.76,794.16 2438.42,796.49 2440.75,797.27 2440.75,800.37 2434.53,802.70 2431.43,803.48 2429.88,806.58 2432.98,809.69 2437.64,812.80 2443.85,812.02 2450.06,811.24 2452.00,813.57 2448.51,815.90 2442.30,815.12 2437.64,815.90 2429.88,815.90 2425.99,817.07 2422.89,814.35 2419.01,811.24 2416.68,808.14 2414.35,806.58 2413.57,803.48 2409.69,801.15 2404.25,802.70 2398.82,801.15 2396.49,797.27 2391.06,794.16 2385.62,793.39 2378.63,792.61"/>
<polygon fill="url(#pG)" points="2379.41,791.06 2391.06,791.06 2400.37,792.61 2406.58,791.83 2415.90,792.61 2422.11,796.49 2429.88,797.27 2434.53,798.04 2429.88,801.15 2426.77,803.48 2428.32,808.14 2432.98,811.24 2436.86,813.57 2443.85,812.80 2449.29,812.80 2445.40,815.12 2436.86,814.74 2429.88,814.74 2425.22,815.90 2422.89,813.57 2419.01,809.69 2416.68,806.58 2415.12,803.48 2410.47,799.60 2403.48,798.82 2397.27,796.49 2391.06,793.39 2383.29,792.61"/>
<polygon fill="url(#pT)" points="2420.56,800.37 2426.77,798.82 2429.88,800.37 2426.77,803.48 2422.11,803.48 2419.01,801.93"/>
<ellipse fill="url(#pD)" cx="2412.02" cy="795.71" rx="7.76" ry="3.49"/>
<ellipse fill="url(#pD)" cx="2427.93" cy="808.91" rx="3.88" ry="3.49"/>
<rect fill="url(#pY)" x="2409.69" y="796.88" width="6.21" height="1.55"/>
<polygon fill="url(#pB)" points="2413.87,791.65 2417.75,791.26 2424.35,792.81 2430.56,793.39 2434.83,793.59 2439.88,795.53 2442.20,797.08 2442.20,801.35 2436.77,803.68 2432.11,804.46 2429.78,806.79 2427.45,808.34 2420.47,808.73 2415.81,805.62 2412.70,802.52 2408.04,801.74 2405.71,797.86 2408.43,794.75 2412.31,792.81"/>
<polygon fill="url(#pT)" points="2414.25,792.23 2417.75,791.84 2424.35,793.39 2430.56,793.98 2434.64,794.17 2439.49,796.11 2441.43,797.47 2441.43,800.96 2436.38,803.10 2431.72,803.87 2429.39,806.20 2427.45,807.76 2420.47,808.34 2416.20,805.23 2413.09,802.13 2408.43,801.35 2406.10,797.86 2408.63,795.14 2412.51,793.20"/>
<polygon fill="url(#pG)" points="2414.64,793.20 2417.75,793.00 2424.35,794.56 2429.39,795.14 2433.66,796.30 2437.55,797.86 2439.49,799.02 2435.99,800.96 2431.34,802.52 2428.62,804.84 2427.07,806.79 2420.47,807.37 2416.97,804.46 2413.87,801.35 2409.21,800.57 2407.07,797.86 2409.21,795.72 2412.70,793.98"/>
<polygon fill="url(#pT)" points="2432.11,794.75 2435.99,795.14 2439.88,797.08 2441.04,800.19 2437.55,801.74 2434.05,800.19 2436.77,798.25"/>
<polygon fill="url(#pG)" points="2378.93,791.26 2381.65,790.09 2390.96,790.48 2397.17,791.65 2401.06,791.26 2404.94,792.81 2401.06,794.36 2393.29,794.36 2388.25,794.75 2383.98,793.59 2379.32,792.81"/>
<ellipse fill="url(#pD)" cx="2408.04" cy="795.53" rx="3.49" ry="2.72"/>
<ellipse fill="url(#pD)" cx="2427.84" cy="809.11" rx="3.88" ry="3.49"/>
<rect fill="url(#pY)" x="2409.98" y="796.50" width="6.21" height="1.75"/>
<polygon fill="url(#pT)" points="2402.31,767.38 2406.58,764.66 2408.91,764.66 2407.36,768.54 2403.87,768.93"/>
<polygon fill="url(#pG)" points="2418.23,788.34 2421.34,786.79 2424.44,789.50 2421.34,790.67"/>
<polygon fill="url(#pB)" points="2482.28,787.17 2485.78,784.07 2491.21,782.13 2496.65,783.29 2502.08,784.46 2499.75,788.73 2495.09,790.67 2488.88,791.83 2485.00,791.06"/>
<polygon fill="url(#pG)" points="2483.45,787.17 2486.55,784.84 2491.21,783.29 2496.65,784.46 2499.75,785.23 2498.20,788.34 2494.32,789.89 2488.88,791.06 2485.39,790.28"/>
<ellipse fill="url(#pD)" cx="2489.66" cy="787.17" rx="3.49" ry="2.72" transform="rotate(-30 2489.66 787.17)"/>
<polygon fill="url(#pB)" points="2509.07,783.29 2511.40,778.25 2515.28,779.41 2521.49,775.53 2526.15,771.65 2530.81,770.09 2533.91,771.65 2535.85,776.30 2533.14,783.29 2526.93,786.40 2519.94,787.95 2512.95,789.11 2509.84,786.40"/>
<polygon fill="url(#pG)" points="2510.62,783.29 2512.95,780.19 2521.49,777.08 2527.70,772.42 2532.36,773.20 2533.52,779.41 2527.70,784.84 2519.94,786.40 2513.73,787.17"/>
<polygon fill="url(#pD)" points="2515.28,783.29 2521.49,779.41 2527.70,774.75 2531.58,775.53 2530.81,780.96 2526.15,784.07 2519.94,785.23 2515.28,785.62"/>
<polygon fill="url(#pT)" points="2530.81,791.06 2533.91,788.73 2537.02,787.95 2535.47,790.28 2531.97,791.83"/>
<polygon fill="url(#pT)" points="2457.83,817.84 2460.16,815.90 2464.04,816.68 2461.71,819.01 2458.21,819.01"/>
<polygon fill="url(#pG)" points="2464.04,815.90 2467.14,813.57 2471.80,815.51 2468.70,818.62 2465.59,817.84"/>
<polygon fill="url(#pG)" points="2429.88,835.31 2432.98,833.76 2436.09,834.15 2435.70,835.70 2432.20,836.86"/>
<polygon fill="url(#pT)" points="2498.98,856.27 2502.86,853.56 2505.96,852.78 2508.68,854.33 2506.74,858.21 2502.08,858.99"/>
<polygon fill="url(#pG)" points="2480.90,537.47 2484.01,536.69 2486.34,538.63 2487.11,540.57 2485.17,540.19 2482.45,538.63"/>
<polygon fill="url(#pB)" points="2522.98,875.71 2527.64,871.83 2530.75,872.61 2527.64,877.27"/>
<polygon fill="url(#pT)" points="2492.70,882.24 2495.81,879.60 2499.69,878.82 2497.36,881.93 2494.25,883.17"/>
<polygon fill="url(#pB)" points="2509.01,880.06 2512.11,877.27 2515.22,877.58 2512.89,880.68"/>
<polygon fill="url(#pG)" points="2515.22,885.34 2519.88,881.61 2524.53,880.06 2524.53,885.03 2518.32,888.91 2515.99,888.14"/>
<rect fill="url(#pG)" x="2422.83" y="909.88" width="8.54" height="4.35"/>
</g>
<polygon fill="#6384c8" points="585.28,284.97 587.45,285.59 589.32,286.83 587.45,287.14 585.90,286.52"/>
<polygon fill="#6384c8" points="598.63,297.08 601.12,297.70 602.98,301.43 601.43,302.05 599.25,300.19"/>
<polygon fill="#5cbcbc" points="594.91,265.90 597.08,266.65 599.25,268.20 598.63,269.13 596.15,267.58"/>
<ellipse fill="#50d090" cx="633.42" cy="285.28" rx="1.86" ry="1.55"/>
<ellipse fill="#8a9a10" cx="639.94" cy="252.36" rx="1.55" ry="1.24"/>
<ellipse fill="#087808" cx="691.43" cy="251.60" rx="2.17" ry="1.40"/>
<ellipse fill="#087808" cx="707.58" cy="247.25" rx="1.55" ry="1.86"/>
<ellipse fill="#ffd800" cx="709.75" cy="243.53" rx="2.80" ry="2.17"/>
<ellipse fill="#ff9800" cx="703.85" cy="244.46" rx="1.09" ry="0.93"/>
<ellipse fill="#ff9800" cx="707.89" cy="242.91" rx="0.93" ry="0.78"/>
<ellipse fill="#ff1800" cx="709.60" cy="243.37" rx="1.24" ry="0.93"/>
<ellipse fill="#ff1800" cx="716.89" cy="242.91" rx="1.09" ry="0.93"/>
<ellipse fill="#8a9a10" cx="692.05" cy="246.94" rx="0.93" ry="0.78"/>
<ellipse fill="#6384c8" cx="676.37" cy="256.42" rx="0.56" ry="0.56"/>
<rect fill="#5cf0b8" x="804.86" y="274.11" width="2.02" height="1.82"/>
<rect fill="#62aad8" x="812.13" y="271.89" width="2.02" height="2.02"/>
<rect fill="#5cf0b8" x="833.93" y="276.13" width="2.02" height="1.82"/>
<rect fill="#6384c8" x="837.16" y="276.13" width="1.82" height="0.81"/>
<rect fill="#6384c8" x="828.28" y="271.89" width="1.61" height="0.81"/>
<rect fill="#087808" x="816.17" y="273.10" width="2.83" height="0.81"/>
<rect fill="#087808" x="830.30" y="275.73" width="2.02" height="2.02"/>
<rect fill="#0a9a0a" x="814.15" y="277.75" width="4.04" height="2.02"/>
<rect fill="#087808" x="825.45" y="278.15" width="1.61" height="0.81"/>
<rect fill="#ffd800" x="816.17" y="273.91" width="2.83" height="1.01"/>
<rect fill="#ffd800" x="816.17" y="280.17" width="4.44" height="0.81"/>
<rect fill="#e8d000" x="827.07" y="277.75" width="4.84" height="1.21"/>
<rect fill="#ffd800" x="823.03" y="276.13" width="2.02" height="0.81"/>
<rect fill="#ffd800" x="827.07" y="272.90" width="2.83" height="1.01"/>
<rect fill="#ff9800" x="821.01" y="274.52" width="2.02" height="1.41"/>
<rect fill="#ff9800" x="823.03" y="273.30" width="2.02" height="0.81"/>
<rect fill="#ff9800" x="825.05" y="276.13" width="4.84" height="1.21"/>
<rect fill="#ff1800" x="818.99" y="273.91" width="2.02" height="1.21"/>
<rect fill="#ff1800" x="825.05" y="273.10" width="2.02" height="0.81"/>
<rect fill="#ff1800" x="827.07" y="273.91" width="2.83" height="1.41"/>
<rect fill="#b00010" x="823.03" y="274.31" width="1.82" height="1.41"/>
<rect fill="#e0c8dc" x="825.05" y="274.11" width="2.02" height="1.82"/>
<rect fill="#5a5ad0" x="821.21" y="276.94" width="1.61" height="1.21"/>
<rect fill="#7070e0" x="823.03" y="278.15" width="1.82" height="1.61"/>
<rect fill="#6a80d0" x="812.13" y="279.76" width="1.61" height="1.21"/>
<rect fill="#5cbcbc" x="769.92" y="164.94" width="1.54" height="1.96"/>
<rect fill="#c8c800" x="772.86" y="164.94" width="1.96" height="1.12"/>
<rect fill="#62aad8" x="772.02" y="167.04" width="2.93" height="0.98"/>
<rect fill="#6384c8" x="775.93" y="166.90" width="1.12" height="1.26"/>
<rect fill="#40e080" x="775.93" y="164.94" width="1.12" height="1.68"/>
<rect fill="#000" x="774.95" y="167.18" width="0.98" height="0.98"/>
<polygon fill="#ffd800" points="2399.07,673.11 2402.80,672.17 2404.66,675.90 2400.93,677.76"/>
<polygon fill="#ffd800" points="2304.04,701.06 2307.76,700.12 2309.63,703.85 2305.90,705.71"/>
<ellipse fill="#ff1800" cx="2370.65" cy="673.11" rx="2.80" ry="1.12"/>
<ellipse fill="#ff9800" cx="2357.14" cy="681.49" rx="2.80" ry="1.86"/>
<ellipse fill="#ff9800" cx="2380.43" cy="693.60" rx="1.86" ry="1.40"/>
<polygon fill="#000" points="2389.75,687.08 2393.48,686.15 2394.41,689.88 2390.68,690.81"/>
<ellipse fill="#10d020" cx="2374.84" cy="661.46" rx="2.42" ry="2.24"/>
<ellipse fill="#087808" cx="2374.84" cy="661.46" rx="1.12" ry="1.02"/>
<ellipse fill="#ffd800" cx="2423.48" cy="657.27" rx="1.68" ry="1.12"/>
<ellipse fill="#087808" cx="2429.81" cy="668.45" rx="2.33" ry="1.86"/>
<ellipse fill="#ff1800" cx="2426.09" cy="665.65" rx="1.49" ry="1.30"/>
<ellipse fill="#ffd800" cx="2431.68" cy="667.05" rx="1.30" ry="1.68"/>
<ellipse fill="#ffd800" cx="2425.62" cy="672.64" rx="0.93" ry="1.12"/>
<ellipse fill="#10d020" cx="2408.85" cy="663.79" rx="1.86" ry="2.05"/>
<ellipse fill="#087808" cx="2408.85" cy="663.79" rx="0.84" ry="0.93"/>
<rect fill="#6384c8" x="2459.63" y="657.27" width="1.40" height="1.86"/>
<ellipse fill="#ffd800" cx="2297.52" cy="715.50" rx="1.12" ry="0.93"/>
<ellipse fill="#087808" cx="2289.13" cy="731.80" rx="2.33" ry="1.86"/>
<ellipse fill="#ff1800" cx="2308.51" cy="735.53" rx="1.12" ry="1.12"/>
<ellipse fill="#ffd800" cx="2267.89" cy="730.12" rx="1.12" ry="1.12"/>
<ellipse fill="#000" cx="2269.10" cy="714.10" rx="1.68" ry="1.40"/>
<ellipse fill="#10d020" cx="2288.66" cy="705.71" rx="1.40" ry="2.80"/>
<polygon fill="#5cbcbc" points="2272.36,721.55 2275.16,722.48 2276.09,727.14 2273.76,727.14"/>
<ellipse fill="#ffd800" cx="2297.98" cy="735.99" rx="1.12" ry="1.86"/>
<ellipse fill="#ffd800" cx="2329.01" cy="663.60" rx="2.80" ry="1.68" transform="rotate(-30 2329.01 663.60)"/>
<ellipse fill="#ff9800" cx="2328.73" cy="663.79" rx="1.30" ry="0.84" transform="rotate(-30 2328.73 663.79)"/>
<ellipse fill="#087808" cx="2336.65" cy="660.06" rx="1.86" ry="1.12" transform="rotate(-30 2336.65 660.06)"/>
<ellipse fill="#10d020" cx="2325.90" cy="656.18" rx="1.16" ry="1.02"/>
<ellipse fill="#6384c8" cx="2322.08" cy="660.19" rx="1.96" ry="2.10"/>
<ellipse fill="#000" cx="2322.08" cy="660.05" rx="0.93" ry="1.02"/>
<polygon fill="#5cbcbc" points="2313.17,668.45 2315.68,667.05 2318.20,668.45 2317.08,671.24 2314.29,671.06"/>
<rect fill="#6384c8" x="2309.81" y="674.04" width="3.54" height="2.80"/>
<rect fill="#6384c8" x="2285.59" y="681.02" width="3.54" height="3.26"/>
<rect fill="#5cbcbc" x="2265.84" y="686.89" width="3.73" height="2.98"/>
<rect fill="#5cbcbc" x="2265.84" y="698.26" width="1.68" height="3.73"/>
<polygon fill="#5cf0b8" points="2345.96,643.76 2348.76,641.24 2351.55,641.43 2350.62,643.48"/>
<polygon fill="#5cbcbc" points="2345.96,662.86 2348.76,661.93 2351.09,663.79 2348.76,665.65 2346.43,665.65"/>
<rect fill="#6384c8" x="2355.09" y="663.79" width="2.05" height="2.05"/>
<rect fill="#6384c8" x="2437.27" y="641.89" width="2.80" height="2.14"/>
<rect fill="#6384c8" x="2424.22" y="648.88" width="2.80" height="1.86"/>
<rect fill="#6384c8" x="2260.25" y="717.36" width="1.40" height="1.40"/>
<rect fill="#5cbcbc" x="2260.06" y="707.11" width="1.58" height="4.66"/>
<ellipse fill="#ffd800" cx="2446.58" cy="707.11" rx="2.33" ry="2.80"/>
<ellipse fill="#ff1800" cx="2446.58" cy="708.51" rx="1.12" ry="1.12"/>
<ellipse fill="#5cbcbc" cx="2403.73" cy="718.76" rx="2.80" ry="1.40"/>
<polygon fill="#6384c8" points="2412.11,726.21 2415.84,724.81 2417.70,726.21 2413.98,727.14"/>
<rect fill="#6384c8" x="2462.89" y="734.13" width="4.19" height="3.45"/>
<polygon fill="#5cbcbc" points="2417.70,709.44 2421.43,708.98 2422.36,711.77 2418.63,712.70"/>
<polygon fill="#5cbcbc" points="2584.35,634.91 2586.83,634.29 2588.07,636.15 2586.83,638.63 2584.66,638.63"/>
<rect fill="#6384c8" x="2480.00" y="660.99" width="3.11" height="3.73"/>
<rect fill="#6384c8" x="2486.83" y="660.99" width="2.17" height="1.86"/>
<polygon fill="#5cbcbc" points="2501.74,662.86 2503.29,660.99 2505.16,662.86 2504.22,664.10 2502.05,664.10"/>
<polygon fill="#5cbcbc" points="2507.95,663.48 2510.43,660.37 2512.30,662.86 2511.68,665.34 2509.19,665.96"/>
<ellipse fill="#10d020" cx="2517.58" cy="658.82" rx="1.24" ry="1.55"/>
<polygon fill="#10d020" points="2515.90,680.56 2517.27,680.25 2518.20,682.11 2517.58,683.98 2516.02,683.98"/>
<ellipse fill="#8a9a10" cx="2562.11" cy="698.63" rx="0.75" ry="0.87"/>
<ellipse fill="#10d020" cx="2545.03" cy="694.29" rx="1.99" ry="2.36"/>
<ellipse fill="#ffd800" cx="2544.84" cy="693.98" rx="0.93" ry="0.81"/>
<polygon fill="#5cbcbc" points="2548.45,696.77 2550.31,695.84 2551.55,698.01 2549.69,698.63"/>
<ellipse fill="#10d020" cx="2527.33" cy="710.43" rx="1.55" ry="1.24"/>
<polygon fill="#10d020" points="2516.77,706.09 2518.63,703.91 2519.25,706.09 2518.01,707.02"/>
<ellipse fill="#5cbcbc" cx="2545.96" cy="705.47" rx="2.17" ry="1.55"/>
<polygon fill="#5cbcbc" points="2550.93,708.57 2552.80,707.95 2553.42,711.06 2551.55,711.99"/>
<rect fill="#6384c8" x="2569.88" y="711.68" width="1.24" height="1.24"/>
<ellipse fill="#ffd800" cx="2534.29" cy="724.41" rx="1.55" ry="1.55"/>
<polygon fill="#10d020" points="2512.73,726.58 2514.29,723.79 2515.22,724.72 2514.91,727.20 2513.04,727.20"/>
<ellipse fill="#087808" cx="2579.81" cy="749.57" rx="1.55" ry="2.17"/>
<polygon fill="#10d020" points="2545.03,750.50 2547.20,747.08 2549.07,745.84 2548.45,748.32 2546.89,750.81"/>
<polygon fill="#5cbcbc" points="2592.86,755.78 2594.41,752.05 2595.96,750.81 2595.34,753.91 2593.79,756.09"/>
<rect fill="#6384c8" x="2656.52" y="734.66" width="1.55" height="2.48"/>
<polygon fill="#10d020" points="2515.84,681.24 2516.77,680.00 2518.01,681.24 2518.01,683.73 2516.15,683.73"/>
<rect fill="#ffd800" x="2412.80" y="793.00" width="3.88" height="1.94"/>
<rect fill="#ffd800" x="2379.41" y="790.90" width="3.88" height="1.09"/>
<rect fill="#ffd800" x="2388.73" y="791.83" width="3.88" height="1.16"/>
<rect fill="#ffd800" x="2425.22" y="808.14" width="3.49" height="1.55"/>
<rect fill="#ffd800" x="2434.53" y="812.80" width="2.33" height="1.55"/>
<rect fill="#ffd800" x="2419.01" y="809.69" width="1.94" height="1.16"/>
<ellipse fill="#ff9800" cx="2425.61" cy="813.96" rx="1.40" ry="1.24"/>
<rect fill="#ffd800" x="2413.09" y="792.81" width="3.88" height="2.33"/>
<rect fill="#ffd800" x="2425.90" y="808.34" width="3.88" height="1.94"/>
<rect fill="#ffd800" x="2379.70" y="790.87" width="3.88" height="1.16"/>
<rect fill="#ff9800" x="2387.47" y="791.84" width="4.66" height="1.16"/>
<ellipse fill="#ff9800" cx="2425.51" cy="814.16" rx="1.16" ry="0.97"/>
<ellipse fill="#ff1800" cx="2425.51" cy="814.36" rx="0.47" ry="0.39"/>
<rect fill="#ffd800" x="2435.22" y="812.80" width="1.94" height="1.36"/>
<polygon fill="#5cbcbc" points="2401.93,785.62 2403.48,784.07 2405.03,786.01"/>
<rect fill="#6384c8" x="2429.10" y="791.06" width="1.71" height="0.93"/>
<rect fill="#6384c8" x="2436.09" y="805.03" width="1.71" height="0.93"/>
<polygon fill="#5cbcbc" points="2478.01,783.68 2479.95,782.13 2481.89,783.68 2479.95,785.62"/>
<ellipse fill="#ffd800" cx="2511.94" cy="782.75" rx="0.93" ry="0.93"/>
<ellipse fill="#ffd800" cx="2514.89" cy="784.22" rx="0.93" ry="0.78"/>
<ellipse fill="#ffd800" cx="2519.55" cy="783.29" rx="0.78" ry="0.78"/>
<ellipse fill="#ffd800" cx="2529.41" cy="774.36" rx="1.09" ry="0.93"/>
<rect fill="#5cbcbc" x="2537.80" y="787.95" width="2.33" height="1.55"/>
<polygon fill="#5cbcbc" points="2474.91,812.80 2478.01,810.85 2478.79,812.02 2475.68,813.96"/>
<polygon fill="#5cbcbc" points="2484.61,809.69 2486.94,807.75 2489.27,809.69 2485.39,812.02"/>
<polygon fill="#5cbcbc" points="2417.07,824.44 2419.01,822.89 2421.34,823.66 2420.56,825.22 2417.45,825.22"/>
<rect fill="#5cbcbc" x="2457.83" y="822.89" width="1.55" height="1.16"/>
<polygon fill="#5cbcbc" points="2498.98,832.20 2502.08,830.26 2504.41,830.26 2501.30,832.98"/>
<polygon fill="#10d020" points="2452.00,853.56 2454.72,852.00 2457.05,853.17 2455.50,855.11 2452.39,855.11"/>
<ellipse fill="#10d020" cx="2503.63" cy="855.89" rx="2.33" ry="1.71"/>
<rect fill="#5cbcbc" x="2368.93" y="854.88" width="5.05" height="1.24"/>
<polygon fill="#5cbcbc" points="2553.71,848.51 2555.65,846.80 2556.27,848.12 2554.49,849.29"/>
<rect fill="#5cbcbc" x="2485.17" y="539.02" width="1.94" height="1.94"/>
<polygon fill="#10d020" points="2340.76,577.07 2341.93,575.90 2345.03,576.06 2345.03,577.84 2341.93,578.07"/>
<rect fill="#6384c8" x="2339.98" y="577.30" width="1.94" height="1.71"/>
<rect fill="#5cbcbc" x="2373.76" y="571.86" width="2.33" height="1.24"/>
<polygon fill="#10d020" points="2393.94,579.94 2396.66,579.94 2397.05,582.11 2395.89,582.11 2395.50,580.95 2393.94,580.95"/>
<polygon fill="#5cbcbc" points="2471.97,597.25 2473.91,596.86 2476.24,598.42 2475.85,599.97 2473.91,599.97"/>
<ellipse fill="#10d020" cx="2474.30" cy="598.42" rx="0.93" ry="0.78"/>
<ellipse fill="#5cbcbc" cx="2526.86" cy="874.47" rx="2.33" ry="1.55" transform="rotate(-35 2526.86 874.47)"/>
<rect fill="#5cbcbc" x="2567.24" y="867.95" width="1.86" height="1.86"/>
<rect fill="#087808" x="2425.16" y="910.81" width="3.88" height="2.17"/>
<rect fill="#6384c8" x="2554.04" y="846.99" width="2.33" height="2.02"/>
<polygon fill="#6384c8" points="2233.80,766.74 2235.20,767.02 2237.30,771.63 2235.62,772.33"/>
<polygon fill="#5cbcbc" points="2271.54,746.48 2272.93,745.78 2275.03,748.57 2273.63,749.27"/>
</svg></body></html>
